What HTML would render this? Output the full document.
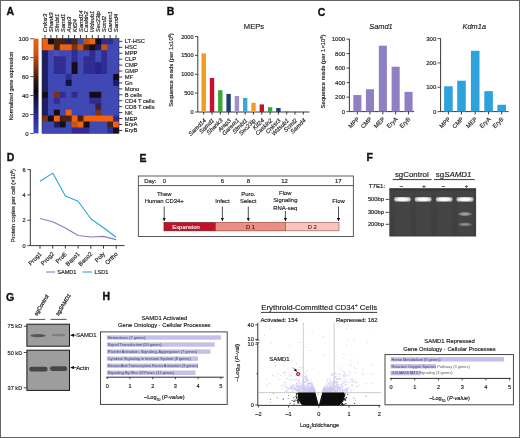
<!DOCTYPE html>
<html><head><meta charset="utf-8"><style>
html,body{margin:0;padding:0;background:#fff;}
#f{position:relative;width:520px;height:438px;overflow:hidden;background:#fff;}
svg{position:absolute;left:0;top:0;filter:blur(0.45px);}
svg text{font-family:"Liberation Sans", sans-serif;}
</style></head><body><div id="f">
<svg width="520" height="438" viewBox="0 0 520 438">
<rect x="0.5" y="0.5" width="519" height="437" fill="#fff" stroke="#636363" stroke-width="1"/>
<text x="6.60" y="15.20" font-size="10.5" text-anchor="start" font-weight="bold" font-style="normal" fill="#111" stroke="#111" stroke-width="0.35">A</text>
<defs>
<linearGradient id="cb" x1="0" y1="0" x2="0" y2="1">
<stop offset="0" stop-color="#f06010"/>
<stop offset="0.15" stop-color="#d45210"/>
<stop offset="0.32" stop-color="#7a3010"/>
<stop offset="0.46" stop-color="#2a1410"/>
<stop offset="0.56" stop-color="#0c0a12"/>
<stop offset="0.66" stop-color="#16164c"/>
<stop offset="0.82" stop-color="#2a2a98"/>
<stop offset="1" stop-color="#3c46c4"/>
</linearGradient>
<linearGradient id="gel" x1="0" y1="0" x2="0" y2="1">
<stop offset="0" stop-color="#303030"/>
<stop offset="0.07" stop-color="#424242"/>
<stop offset="1" stop-color="#3e3e3e"/>
</linearGradient>
<radialGradient id="band" cx="0.5" cy="0.5" r="0.5">
<stop offset="0" stop-color="#ffffff"/>
<stop offset="0.6" stop-color="#f4f4f4"/>
<stop offset="1" stop-color="#b0b0b0"/>
</radialGradient>
<radialGradient id="lb1" cx="0.5" cy="0.5" r="0.5"><stop offset="0" stop-color="#a8a8a8"/><stop offset="0.6" stop-color="#8c8c8c"/><stop offset="1" stop-color="#505050"/></radialGradient>
<radialGradient id="lb2" cx="0.5" cy="0.5" r="0.5"><stop offset="0" stop-color="#949494"/><stop offset="0.6" stop-color="#7c7c7c"/><stop offset="1" stop-color="#4c4c4c"/></radialGradient>
<marker id="ah" viewBox="0 0 10 10" refX="9" refY="5" markerWidth="4.5" markerHeight="4.5" orient="auto"><path d="M0,0 L10,5 L0,10 z" fill="#111"/></marker>
</defs>
<rect x="33.50" y="38.60" width="5.00" height="94.80" fill="url(#cb)"/>
<line x1="30.30" y1="38.70" x2="33.50" y2="38.70" stroke="#222" stroke-width="0.8"/>
<text x="28.60" y="40.80" font-size="6.0" text-anchor="end" font-weight="normal" font-style="normal" fill="#222" stroke="#222" stroke-width="0.16">100</text>
<line x1="30.30" y1="57.66" x2="33.50" y2="57.66" stroke="#222" stroke-width="0.8"/>
<text x="28.60" y="59.76" font-size="6.0" text-anchor="end" font-weight="normal" font-style="normal" fill="#222" stroke="#222" stroke-width="0.16">80</text>
<line x1="30.30" y1="76.62" x2="33.50" y2="76.62" stroke="#222" stroke-width="0.8"/>
<text x="28.60" y="78.72" font-size="6.0" text-anchor="end" font-weight="normal" font-style="normal" fill="#222" stroke="#222" stroke-width="0.16">60</text>
<line x1="30.30" y1="95.58" x2="33.50" y2="95.58" stroke="#222" stroke-width="0.8"/>
<text x="28.60" y="97.68" font-size="6.0" text-anchor="end" font-weight="normal" font-style="normal" fill="#222" stroke="#222" stroke-width="0.16">40</text>
<line x1="30.30" y1="114.54" x2="33.50" y2="114.54" stroke="#222" stroke-width="0.8"/>
<text x="28.60" y="116.64" font-size="6.0" text-anchor="end" font-weight="normal" font-style="normal" fill="#222" stroke="#222" stroke-width="0.16">20</text>
<line x1="30.30" y1="133.50" x2="33.50" y2="133.50" stroke="#222" stroke-width="0.8"/>
<text x="28.60" y="135.60" font-size="6.0" text-anchor="end" font-weight="normal" font-style="normal" fill="#222" stroke="#222" stroke-width="0.16">0</text>
<text x="12.90" y="86.00" font-size="5.4" text-anchor="middle" font-weight="normal" font-style="normal" fill="#222" transform="rotate(-90 12.9 86.0)" stroke="#222" stroke-width="0.16">Normalized gene expression</text>
<rect x="42.00" y="38.40" width="6.62" height="6.64" fill="#f0620f"/>
<rect x="47.92" y="38.40" width="6.62" height="6.64" fill="#140d16"/>
<rect x="53.85" y="38.40" width="6.62" height="6.64" fill="#4a2210"/>
<rect x="59.77" y="38.40" width="6.62" height="6.64" fill="#4a2210"/>
<rect x="65.69" y="38.40" width="6.62" height="6.64" fill="#1e1e68"/>
<rect x="71.62" y="38.40" width="6.62" height="6.64" fill="#4a2210"/>
<rect x="77.54" y="38.40" width="6.62" height="6.64" fill="#4048b4"/>
<rect x="83.46" y="38.40" width="6.62" height="6.64" fill="#c9530f"/>
<rect x="89.38" y="38.40" width="6.62" height="6.64" fill="#f0620f"/>
<rect x="95.31" y="38.40" width="6.62" height="6.64" fill="#140d16"/>
<rect x="101.23" y="38.40" width="6.62" height="6.64" fill="#2f2d94"/>
<rect x="107.15" y="38.40" width="6.62" height="6.64" fill="#2f2d94"/>
<rect x="113.08" y="38.40" width="5.92" height="6.64" fill="#4048b4"/>
<rect x="42.00" y="44.34" width="6.62" height="6.64" fill="#f0620f"/>
<rect x="47.92" y="44.34" width="6.62" height="6.64" fill="#f0620f"/>
<rect x="53.85" y="44.34" width="6.62" height="6.64" fill="#4a2210"/>
<rect x="59.77" y="44.34" width="6.62" height="6.64" fill="#f0620f"/>
<rect x="65.69" y="44.34" width="6.62" height="6.64" fill="#f0620f"/>
<rect x="71.62" y="44.34" width="6.62" height="6.64" fill="#7a3414"/>
<rect x="77.54" y="44.34" width="6.62" height="6.64" fill="#c9530f"/>
<rect x="83.46" y="44.34" width="6.62" height="6.64" fill="#4a2210"/>
<rect x="89.38" y="44.34" width="6.62" height="6.64" fill="#140d16"/>
<rect x="95.31" y="44.34" width="6.62" height="6.64" fill="#1e1e68"/>
<rect x="101.23" y="44.34" width="6.62" height="6.64" fill="#c9530f"/>
<rect x="107.15" y="44.34" width="6.62" height="6.64" fill="#4048b4"/>
<rect x="113.08" y="44.34" width="5.92" height="6.64" fill="#4048b4"/>
<rect x="42.00" y="50.27" width="6.62" height="6.64" fill="#1e1e68"/>
<rect x="47.92" y="50.27" width="6.62" height="6.64" fill="#4048b4"/>
<rect x="53.85" y="50.27" width="6.62" height="6.64" fill="#4750bc"/>
<rect x="59.77" y="50.27" width="6.62" height="6.64" fill="#4048b4"/>
<rect x="65.69" y="50.27" width="6.62" height="6.64" fill="#4048b4"/>
<rect x="71.62" y="50.27" width="6.62" height="6.64" fill="#2f2d94"/>
<rect x="77.54" y="50.27" width="6.62" height="6.64" fill="#4048b4"/>
<rect x="83.46" y="50.27" width="6.62" height="6.64" fill="#4048b4"/>
<rect x="89.38" y="50.27" width="6.62" height="6.64" fill="#2f2d94"/>
<rect x="95.31" y="50.27" width="6.62" height="6.64" fill="#4048b4"/>
<rect x="101.23" y="50.27" width="6.62" height="6.64" fill="#2f2d94"/>
<rect x="107.15" y="50.27" width="6.62" height="6.64" fill="#4048b4"/>
<rect x="113.08" y="50.27" width="5.92" height="6.64" fill="#4048b4"/>
<rect x="42.00" y="56.21" width="6.62" height="6.64" fill="#1e1e68"/>
<rect x="47.92" y="56.21" width="6.62" height="6.64" fill="#4048b4"/>
<rect x="53.85" y="56.21" width="6.62" height="6.64" fill="#2f2d94"/>
<rect x="59.77" y="56.21" width="6.62" height="6.64" fill="#2f2d94"/>
<rect x="65.69" y="56.21" width="6.62" height="6.64" fill="#4048b4"/>
<rect x="71.62" y="56.21" width="6.62" height="6.64" fill="#2f2d94"/>
<rect x="77.54" y="56.21" width="6.62" height="6.64" fill="#4048b4"/>
<rect x="83.46" y="56.21" width="6.62" height="6.64" fill="#2f2d94"/>
<rect x="89.38" y="56.21" width="6.62" height="6.64" fill="#2f2d94"/>
<rect x="95.31" y="56.21" width="6.62" height="6.64" fill="#4048b4"/>
<rect x="101.23" y="56.21" width="6.62" height="6.64" fill="#2f2d94"/>
<rect x="107.15" y="56.21" width="6.62" height="6.64" fill="#4048b4"/>
<rect x="113.08" y="56.21" width="5.92" height="6.64" fill="#4048b4"/>
<rect x="42.00" y="62.15" width="6.62" height="6.64" fill="#1e1e68"/>
<rect x="47.92" y="62.15" width="6.62" height="6.64" fill="#4048b4"/>
<rect x="53.85" y="62.15" width="6.62" height="6.64" fill="#2f2d94"/>
<rect x="59.77" y="62.15" width="6.62" height="6.64" fill="#2f2d94"/>
<rect x="65.69" y="62.15" width="6.62" height="6.64" fill="#4048b4"/>
<rect x="71.62" y="62.15" width="6.62" height="6.64" fill="#140d16"/>
<rect x="77.54" y="62.15" width="6.62" height="6.64" fill="#4048b4"/>
<rect x="83.46" y="62.15" width="6.62" height="6.64" fill="#2f2d94"/>
<rect x="89.38" y="62.15" width="6.62" height="6.64" fill="#2f2d94"/>
<rect x="95.31" y="62.15" width="6.62" height="6.64" fill="#24248a"/>
<rect x="101.23" y="62.15" width="6.62" height="6.64" fill="#2f2d94"/>
<rect x="107.15" y="62.15" width="6.62" height="6.64" fill="#4048b4"/>
<rect x="113.08" y="62.15" width="5.92" height="6.64" fill="#4048b4"/>
<rect x="42.00" y="68.09" width="6.62" height="6.64" fill="#1e1e68"/>
<rect x="47.92" y="68.09" width="6.62" height="6.64" fill="#4048b4"/>
<rect x="53.85" y="68.09" width="6.62" height="6.64" fill="#2f2d94"/>
<rect x="59.77" y="68.09" width="6.62" height="6.64" fill="#2f2d94"/>
<rect x="65.69" y="68.09" width="6.62" height="6.64" fill="#4048b4"/>
<rect x="71.62" y="68.09" width="6.62" height="6.64" fill="#140d16"/>
<rect x="77.54" y="68.09" width="6.62" height="6.64" fill="#4048b4"/>
<rect x="83.46" y="68.09" width="6.62" height="6.64" fill="#2f2d94"/>
<rect x="89.38" y="68.09" width="6.62" height="6.64" fill="#2f2d94"/>
<rect x="95.31" y="68.09" width="6.62" height="6.64" fill="#24248a"/>
<rect x="101.23" y="68.09" width="6.62" height="6.64" fill="#2f2d94"/>
<rect x="107.15" y="68.09" width="6.62" height="6.64" fill="#4048b4"/>
<rect x="113.08" y="68.09" width="5.92" height="6.64" fill="#4048b4"/>
<rect x="42.00" y="74.03" width="6.62" height="6.64" fill="#1e1e68"/>
<rect x="47.92" y="74.03" width="6.62" height="6.64" fill="#4048b4"/>
<rect x="53.85" y="74.03" width="6.62" height="6.64" fill="#4048b4"/>
<rect x="59.77" y="74.03" width="6.62" height="6.64" fill="#4048b4"/>
<rect x="65.69" y="74.03" width="6.62" height="6.64" fill="#2f2d94"/>
<rect x="71.62" y="74.03" width="6.62" height="6.64" fill="#4048b4"/>
<rect x="77.54" y="74.03" width="6.62" height="6.64" fill="#4048b4"/>
<rect x="83.46" y="74.03" width="6.62" height="6.64" fill="#4048b4"/>
<rect x="89.38" y="74.03" width="6.62" height="6.64" fill="#4048b4"/>
<rect x="95.31" y="74.03" width="6.62" height="6.64" fill="#4048b4"/>
<rect x="101.23" y="74.03" width="6.62" height="6.64" fill="#4048b4"/>
<rect x="107.15" y="74.03" width="6.62" height="6.64" fill="#4048b4"/>
<rect x="113.08" y="74.03" width="5.92" height="6.64" fill="#140d16"/>
<rect x="42.00" y="79.96" width="6.62" height="6.64" fill="#1e1e68"/>
<rect x="47.92" y="79.96" width="6.62" height="6.64" fill="#4048b4"/>
<rect x="53.85" y="79.96" width="6.62" height="6.64" fill="#4048b4"/>
<rect x="59.77" y="79.96" width="6.62" height="6.64" fill="#4048b4"/>
<rect x="65.69" y="79.96" width="6.62" height="6.64" fill="#12124a"/>
<rect x="71.62" y="79.96" width="6.62" height="6.64" fill="#4048b4"/>
<rect x="77.54" y="79.96" width="6.62" height="6.64" fill="#4048b4"/>
<rect x="83.46" y="79.96" width="6.62" height="6.64" fill="#4048b4"/>
<rect x="89.38" y="79.96" width="6.62" height="6.64" fill="#4048b4"/>
<rect x="95.31" y="79.96" width="6.62" height="6.64" fill="#4048b4"/>
<rect x="101.23" y="79.96" width="6.62" height="6.64" fill="#4048b4"/>
<rect x="107.15" y="79.96" width="6.62" height="6.64" fill="#4048b4"/>
<rect x="113.08" y="79.96" width="5.92" height="6.64" fill="#1e1e68"/>
<rect x="42.00" y="85.90" width="6.62" height="6.64" fill="#1e1e68"/>
<rect x="47.92" y="85.90" width="6.62" height="6.64" fill="#4048b4"/>
<rect x="53.85" y="85.90" width="6.62" height="6.64" fill="#4048b4"/>
<rect x="59.77" y="85.90" width="6.62" height="6.64" fill="#4048b4"/>
<rect x="65.69" y="85.90" width="6.62" height="6.64" fill="#4048b4"/>
<rect x="71.62" y="85.90" width="6.62" height="6.64" fill="#4048b4"/>
<rect x="77.54" y="85.90" width="6.62" height="6.64" fill="#4048b4"/>
<rect x="83.46" y="85.90" width="6.62" height="6.64" fill="#4048b4"/>
<rect x="89.38" y="85.90" width="6.62" height="6.64" fill="#4048b4"/>
<rect x="95.31" y="85.90" width="6.62" height="6.64" fill="#4048b4"/>
<rect x="101.23" y="85.90" width="6.62" height="6.64" fill="#4048b4"/>
<rect x="107.15" y="85.90" width="6.62" height="6.64" fill="#4048b4"/>
<rect x="113.08" y="85.90" width="5.92" height="6.64" fill="#4048b4"/>
<rect x="42.00" y="91.84" width="6.62" height="6.64" fill="#140d16"/>
<rect x="47.92" y="91.84" width="6.62" height="6.64" fill="#4048b4"/>
<rect x="53.85" y="91.84" width="6.62" height="6.64" fill="#7a3414"/>
<rect x="59.77" y="91.84" width="6.62" height="6.64" fill="#2f2d94"/>
<rect x="65.69" y="91.84" width="6.62" height="6.64" fill="#4048b4"/>
<rect x="71.62" y="91.84" width="6.62" height="6.64" fill="#2f2d94"/>
<rect x="77.54" y="91.84" width="6.62" height="6.64" fill="#4048b4"/>
<rect x="83.46" y="91.84" width="6.62" height="6.64" fill="#4048b4"/>
<rect x="89.38" y="91.84" width="6.62" height="6.64" fill="#140d16"/>
<rect x="95.31" y="91.84" width="6.62" height="6.64" fill="#140d16"/>
<rect x="101.23" y="91.84" width="6.62" height="6.64" fill="#4048b4"/>
<rect x="107.15" y="91.84" width="6.62" height="6.64" fill="#4048b4"/>
<rect x="113.08" y="91.84" width="5.92" height="6.64" fill="#4048b4"/>
<rect x="42.00" y="97.78" width="6.62" height="6.64" fill="#1e1e68"/>
<rect x="47.92" y="97.78" width="6.62" height="6.64" fill="#4048b4"/>
<rect x="53.85" y="97.78" width="6.62" height="6.64" fill="#2f2d94"/>
<rect x="59.77" y="97.78" width="6.62" height="6.64" fill="#4048b4"/>
<rect x="65.69" y="97.78" width="6.62" height="6.64" fill="#4048b4"/>
<rect x="71.62" y="97.78" width="6.62" height="6.64" fill="#4048b4"/>
<rect x="77.54" y="97.78" width="6.62" height="6.64" fill="#4048b4"/>
<rect x="83.46" y="97.78" width="6.62" height="6.64" fill="#4048b4"/>
<rect x="89.38" y="97.78" width="6.62" height="6.64" fill="#2f2d94"/>
<rect x="95.31" y="97.78" width="6.62" height="6.64" fill="#2f2d94"/>
<rect x="101.23" y="97.78" width="6.62" height="6.64" fill="#4048b4"/>
<rect x="107.15" y="97.78" width="6.62" height="6.64" fill="#4048b4"/>
<rect x="113.08" y="97.78" width="5.92" height="6.64" fill="#4048b4"/>
<rect x="42.00" y="103.71" width="6.62" height="6.64" fill="#1e1e68"/>
<rect x="47.92" y="103.71" width="6.62" height="6.64" fill="#4048b4"/>
<rect x="53.85" y="103.71" width="6.62" height="6.64" fill="#4048b4"/>
<rect x="59.77" y="103.71" width="6.62" height="6.64" fill="#4048b4"/>
<rect x="65.69" y="103.71" width="6.62" height="6.64" fill="#4048b4"/>
<rect x="71.62" y="103.71" width="6.62" height="6.64" fill="#4048b4"/>
<rect x="77.54" y="103.71" width="6.62" height="6.64" fill="#4048b4"/>
<rect x="83.46" y="103.71" width="6.62" height="6.64" fill="#4048b4"/>
<rect x="89.38" y="103.71" width="6.62" height="6.64" fill="#4048b4"/>
<rect x="95.31" y="103.71" width="6.62" height="6.64" fill="#3a2246"/>
<rect x="101.23" y="103.71" width="6.62" height="6.64" fill="#4048b4"/>
<rect x="107.15" y="103.71" width="6.62" height="6.64" fill="#4048b4"/>
<rect x="113.08" y="103.71" width="5.92" height="6.64" fill="#4048b4"/>
<rect x="42.00" y="109.65" width="6.62" height="6.64" fill="#1e1e68"/>
<rect x="47.92" y="109.65" width="6.62" height="6.64" fill="#4048b4"/>
<rect x="53.85" y="109.65" width="6.62" height="6.64" fill="#140d16"/>
<rect x="59.77" y="109.65" width="6.62" height="6.64" fill="#4048b4"/>
<rect x="65.69" y="109.65" width="6.62" height="6.64" fill="#f0620f"/>
<rect x="71.62" y="109.65" width="6.62" height="6.64" fill="#4048b4"/>
<rect x="77.54" y="109.65" width="6.62" height="6.64" fill="#4048b4"/>
<rect x="83.46" y="109.65" width="6.62" height="6.64" fill="#4048b4"/>
<rect x="89.38" y="109.65" width="6.62" height="6.64" fill="#4048b4"/>
<rect x="95.31" y="109.65" width="6.62" height="6.64" fill="#7a3414"/>
<rect x="101.23" y="109.65" width="6.62" height="6.64" fill="#4048b4"/>
<rect x="107.15" y="109.65" width="6.62" height="6.64" fill="#4048b4"/>
<rect x="113.08" y="109.65" width="5.92" height="6.64" fill="#4048b4"/>
<rect x="42.00" y="115.59" width="6.62" height="6.64" fill="#7a3414"/>
<rect x="47.92" y="115.59" width="6.62" height="6.64" fill="#140d16"/>
<rect x="53.85" y="115.59" width="6.62" height="6.64" fill="#f0620f"/>
<rect x="59.77" y="115.59" width="6.62" height="6.64" fill="#4a2210"/>
<rect x="65.69" y="115.59" width="6.62" height="6.64" fill="#4a2210"/>
<rect x="71.62" y="115.59" width="6.62" height="6.64" fill="#f0620f"/>
<rect x="77.54" y="115.59" width="6.62" height="6.64" fill="#4a2210"/>
<rect x="83.46" y="115.59" width="6.62" height="6.64" fill="#f0620f"/>
<rect x="89.38" y="115.59" width="6.62" height="6.64" fill="#f0620f"/>
<rect x="95.31" y="115.59" width="6.62" height="6.64" fill="#f0620f"/>
<rect x="101.23" y="115.59" width="6.62" height="6.64" fill="#f0620f"/>
<rect x="107.15" y="115.59" width="6.62" height="6.64" fill="#f0620f"/>
<rect x="113.08" y="115.59" width="5.92" height="6.64" fill="#2f2d94"/>
<rect x="42.00" y="121.53" width="6.62" height="6.64" fill="#4048b4"/>
<rect x="47.92" y="121.53" width="6.62" height="6.64" fill="#4048b4"/>
<rect x="53.85" y="121.53" width="6.62" height="6.64" fill="#1e1e68"/>
<rect x="59.77" y="121.53" width="6.62" height="6.64" fill="#140d16"/>
<rect x="65.69" y="121.53" width="6.62" height="6.64" fill="#4048b4"/>
<rect x="71.62" y="121.53" width="6.62" height="6.64" fill="#c9530f"/>
<rect x="77.54" y="121.53" width="6.62" height="6.64" fill="#f0620f"/>
<rect x="83.46" y="121.53" width="6.62" height="6.64" fill="#140d16"/>
<rect x="89.38" y="121.53" width="6.62" height="6.64" fill="#4048b4"/>
<rect x="95.31" y="121.53" width="6.62" height="6.64" fill="#4048b4"/>
<rect x="101.23" y="121.53" width="6.62" height="6.64" fill="#4048b4"/>
<rect x="107.15" y="121.53" width="6.62" height="6.64" fill="#4a2210"/>
<rect x="113.08" y="121.53" width="5.92" height="6.64" fill="#f0620f"/>
<rect x="42.00" y="127.46" width="6.62" height="5.94" fill="#4048b4"/>
<rect x="47.92" y="127.46" width="6.62" height="5.94" fill="#4048b4"/>
<rect x="53.85" y="127.46" width="6.62" height="5.94" fill="#4048b4"/>
<rect x="59.77" y="127.46" width="6.62" height="5.94" fill="#4048b4"/>
<rect x="65.69" y="127.46" width="6.62" height="5.94" fill="#4048b4"/>
<rect x="71.62" y="127.46" width="6.62" height="5.94" fill="#2f2d94"/>
<rect x="77.54" y="127.46" width="6.62" height="5.94" fill="#2f2d94"/>
<rect x="83.46" y="127.46" width="6.62" height="5.94" fill="#2f2d94"/>
<rect x="89.38" y="127.46" width="6.62" height="5.94" fill="#4048b4"/>
<rect x="95.31" y="127.46" width="6.62" height="5.94" fill="#4048b4"/>
<rect x="101.23" y="127.46" width="6.62" height="5.94" fill="#4048b4"/>
<rect x="107.15" y="127.46" width="6.62" height="5.94" fill="#2f2d94"/>
<rect x="113.08" y="127.46" width="5.92" height="5.94" fill="#140d16"/>
<rect x="42.00" y="38.40" width="77.00" height="95.00" fill="none" stroke="#222" stroke-width="0.5"/>
<line x1="44.96" y1="35.00" x2="44.96" y2="38.40" stroke="#222" stroke-width="0.9"/>
<text x="0" y="0" font-size="5.6" text-anchor="start" font-weight="normal" font-style="italic" fill="#222" transform="translate(46.96 32.20) rotate(-90) scale(1.04 1)" stroke="#222" stroke-width="0.16">Cnksr3</text>
<line x1="50.88" y1="35.00" x2="50.88" y2="38.40" stroke="#222" stroke-width="0.9"/>
<text x="0" y="0" font-size="5.6" text-anchor="start" font-weight="normal" font-style="italic" fill="#222" transform="translate(52.88 32.20) rotate(-90) scale(1.04 1)" stroke="#222" stroke-width="0.16">Shank3</text>
<line x1="56.81" y1="35.00" x2="56.81" y2="38.40" stroke="#222" stroke-width="0.9"/>
<text x="0" y="0" font-size="5.6" text-anchor="start" font-weight="normal" font-style="italic" fill="#222" transform="translate(58.81 32.20) rotate(-90) scale(1.04 1)" stroke="#222" stroke-width="0.16">Sfmbt1</text>
<line x1="62.73" y1="35.00" x2="62.73" y2="38.40" stroke="#222" stroke-width="0.9"/>
<text x="0" y="0" font-size="5.6" text-anchor="start" font-weight="normal" font-style="italic" fill="#222" transform="translate(64.73 32.20) rotate(-90) scale(1.04 1)" stroke="#222" stroke-width="0.16">Samd1</text>
<line x1="68.65" y1="35.00" x2="68.65" y2="38.40" stroke="#222" stroke-width="0.9"/>
<text x="0" y="0" font-size="5.6" text-anchor="start" font-weight="normal" font-style="italic" fill="#222" transform="translate(70.65 32.20) rotate(-90) scale(1.04 1)" stroke="#222" stroke-width="0.16">Arap3</text>
<line x1="74.58" y1="35.00" x2="74.58" y2="38.40" stroke="#222" stroke-width="0.9"/>
<text x="0" y="0" font-size="5.6" text-anchor="start" font-weight="normal" font-style="italic" fill="#222" transform="translate(76.58 32.20) rotate(-90) scale(1.04 1)" stroke="#222" stroke-width="0.16">Kif24</text>
<line x1="80.50" y1="35.00" x2="80.50" y2="38.40" stroke="#222" stroke-width="0.9"/>
<text x="0" y="0" font-size="5.6" text-anchor="start" font-weight="normal" font-style="italic" fill="#222" transform="translate(82.50 32.20) rotate(-90) scale(1.04 1)" stroke="#222" stroke-width="0.16">Samd14</text>
<line x1="86.42" y1="35.00" x2="86.42" y2="38.40" stroke="#222" stroke-width="0.9"/>
<text x="0" y="0" font-size="5.6" text-anchor="start" font-weight="normal" font-style="italic" fill="#222" transform="translate(88.42 32.20) rotate(-90) scale(1.04 1)" stroke="#222" stroke-width="0.16">Caskin2</text>
<line x1="92.35" y1="35.00" x2="92.35" y2="38.40" stroke="#222" stroke-width="0.9"/>
<text x="0" y="0" font-size="5.6" text-anchor="start" font-weight="normal" font-style="italic" fill="#222" transform="translate(94.35 32.20) rotate(-90) scale(1.04 1)" stroke="#222" stroke-width="0.16">Wdsub1</text>
<line x1="98.27" y1="35.00" x2="98.27" y2="38.40" stroke="#222" stroke-width="0.9"/>
<text x="0" y="0" font-size="5.6" text-anchor="start" font-weight="normal" font-style="italic" fill="#222" transform="translate(100.27 32.20) rotate(-90) scale(1.04 1)" stroke="#222" stroke-width="0.16">Sec23ip</text>
<line x1="104.19" y1="35.00" x2="104.19" y2="38.40" stroke="#222" stroke-width="0.9"/>
<text x="0" y="0" font-size="5.6" text-anchor="start" font-weight="normal" font-style="italic" fill="#222" transform="translate(106.19 32.20) rotate(-90) scale(1.04 1)" stroke="#222" stroke-width="0.16">Scml2</text>
<line x1="110.12" y1="35.00" x2="110.12" y2="38.40" stroke="#222" stroke-width="0.9"/>
<text x="0" y="0" font-size="5.6" text-anchor="start" font-weight="normal" font-style="italic" fill="#222" transform="translate(112.12 32.20) rotate(-90) scale(1.04 1)" stroke="#222" stroke-width="0.16">Garem1</text>
<line x1="116.04" y1="35.00" x2="116.04" y2="38.40" stroke="#222" stroke-width="0.9"/>
<text x="0" y="0" font-size="5.6" text-anchor="start" font-weight="normal" font-style="italic" fill="#222" transform="translate(118.04 32.20) rotate(-90) scale(1.04 1)" stroke="#222" stroke-width="0.16">Samd4</text>
<line x1="119.00" y1="41.37" x2="122.30" y2="41.37" stroke="#222" stroke-width="0.9"/>
<text x="124.80" y="43.37" font-size="5.8" text-anchor="start" font-weight="normal" font-style="normal" fill="#222" stroke="#222" stroke-width="0.16">LT-HSC</text>
<line x1="119.00" y1="47.31" x2="122.30" y2="47.31" stroke="#222" stroke-width="0.9"/>
<text x="124.80" y="49.31" font-size="5.8" text-anchor="start" font-weight="normal" font-style="normal" fill="#222" stroke="#222" stroke-width="0.16">HSC</text>
<line x1="119.00" y1="53.24" x2="122.30" y2="53.24" stroke="#222" stroke-width="0.9"/>
<text x="124.80" y="55.24" font-size="5.8" text-anchor="start" font-weight="normal" font-style="normal" fill="#222" stroke="#222" stroke-width="0.16">MPP</text>
<line x1="119.00" y1="59.18" x2="122.30" y2="59.18" stroke="#222" stroke-width="0.9"/>
<text x="124.80" y="61.18" font-size="5.8" text-anchor="start" font-weight="normal" font-style="normal" fill="#222" stroke="#222" stroke-width="0.16">CLP</text>
<line x1="119.00" y1="65.12" x2="122.30" y2="65.12" stroke="#222" stroke-width="0.9"/>
<text x="124.80" y="67.12" font-size="5.8" text-anchor="start" font-weight="normal" font-style="normal" fill="#222" stroke="#222" stroke-width="0.16">CMP</text>
<line x1="119.00" y1="71.06" x2="122.30" y2="71.06" stroke="#222" stroke-width="0.9"/>
<text x="124.80" y="73.06" font-size="5.8" text-anchor="start" font-weight="normal" font-style="normal" fill="#222" stroke="#222" stroke-width="0.16">GMP</text>
<line x1="119.00" y1="76.99" x2="122.30" y2="76.99" stroke="#222" stroke-width="0.9"/>
<text x="124.80" y="78.99" font-size="5.8" text-anchor="start" font-weight="normal" font-style="normal" fill="#222" stroke="#222" stroke-width="0.16">MF</text>
<line x1="119.00" y1="82.93" x2="122.30" y2="82.93" stroke="#222" stroke-width="0.9"/>
<text x="124.80" y="84.93" font-size="5.8" text-anchor="start" font-weight="normal" font-style="normal" fill="#222" stroke="#222" stroke-width="0.16">Gn</text>
<line x1="119.00" y1="88.87" x2="122.30" y2="88.87" stroke="#222" stroke-width="0.9"/>
<text x="124.80" y="90.87" font-size="5.8" text-anchor="start" font-weight="normal" font-style="normal" fill="#222" stroke="#222" stroke-width="0.16">Mono</text>
<line x1="119.00" y1="94.81" x2="122.30" y2="94.81" stroke="#222" stroke-width="0.9"/>
<text x="124.80" y="96.81" font-size="5.8" text-anchor="start" font-weight="normal" font-style="normal" fill="#222" stroke="#222" stroke-width="0.16">B cells</text>
<line x1="119.00" y1="100.74" x2="122.30" y2="100.74" stroke="#222" stroke-width="0.9"/>
<text x="124.80" y="102.74" font-size="5.8" text-anchor="start" font-weight="normal" font-style="normal" fill="#222" stroke="#222" stroke-width="0.16">CD4 T cells</text>
<line x1="119.00" y1="106.68" x2="122.30" y2="106.68" stroke="#222" stroke-width="0.9"/>
<text x="124.80" y="108.68" font-size="5.8" text-anchor="start" font-weight="normal" font-style="normal" fill="#222" stroke="#222" stroke-width="0.16">CD8 T cells</text>
<line x1="119.00" y1="112.62" x2="122.30" y2="112.62" stroke="#222" stroke-width="0.9"/>
<text x="124.80" y="114.62" font-size="5.8" text-anchor="start" font-weight="normal" font-style="normal" fill="#222" stroke="#222" stroke-width="0.16">NK</text>
<line x1="119.00" y1="118.56" x2="122.30" y2="118.56" stroke="#222" stroke-width="0.9"/>
<text x="124.80" y="120.56" font-size="5.8" text-anchor="start" font-weight="normal" font-style="normal" fill="#222" stroke="#222" stroke-width="0.16">MEP</text>
<line x1="119.00" y1="124.49" x2="122.30" y2="124.49" stroke="#222" stroke-width="0.9"/>
<text x="124.80" y="126.49" font-size="5.8" text-anchor="start" font-weight="normal" font-style="normal" fill="#222" stroke="#222" stroke-width="0.16">EryA</text>
<line x1="119.00" y1="130.43" x2="122.30" y2="130.43" stroke="#222" stroke-width="0.9"/>
<text x="124.80" y="132.43" font-size="5.8" text-anchor="start" font-weight="normal" font-style="normal" fill="#222" stroke="#222" stroke-width="0.16">EryB</text>
<text x="166.70" y="15.40" font-size="10.5" text-anchor="start" font-weight="bold" font-style="normal" fill="#111" stroke="#111" stroke-width="0.35">B</text>
<text x="254.00" y="29.00" font-size="7.6" text-anchor="middle" font-weight="normal" font-style="normal" fill="#222" stroke="#222" stroke-width="0.16">MEPs</text>
<line x1="197.80" y1="36.20" x2="197.80" y2="112.00" stroke="#222" stroke-width="0.9"/>
<line x1="197.80" y1="112.00" x2="309.50" y2="112.00" stroke="#222" stroke-width="0.9"/>
<line x1="195.00" y1="112.00" x2="197.80" y2="112.00" stroke="#222" stroke-width="0.8"/>
<text x="193.60" y="114.00" font-size="5.6" text-anchor="end" font-weight="normal" font-style="normal" fill="#222" stroke="#222" stroke-width="0.16">0</text>
<line x1="195.00" y1="93.12" x2="197.80" y2="93.12" stroke="#222" stroke-width="0.8"/>
<text x="193.60" y="95.12" font-size="5.6" text-anchor="end" font-weight="normal" font-style="normal" fill="#222" stroke="#222" stroke-width="0.16">500</text>
<line x1="195.00" y1="74.25" x2="197.80" y2="74.25" stroke="#222" stroke-width="0.8"/>
<text x="193.60" y="76.25" font-size="5.6" text-anchor="end" font-weight="normal" font-style="normal" fill="#222" stroke="#222" stroke-width="0.16">1000</text>
<line x1="195.00" y1="55.38" x2="197.80" y2="55.38" stroke="#222" stroke-width="0.8"/>
<text x="193.60" y="57.38" font-size="5.6" text-anchor="end" font-weight="normal" font-style="normal" fill="#222" stroke="#222" stroke-width="0.16">1500</text>
<line x1="195.00" y1="36.50" x2="197.80" y2="36.50" stroke="#222" stroke-width="0.8"/>
<text x="193.60" y="38.50" font-size="5.6" text-anchor="end" font-weight="normal" font-style="normal" fill="#222" stroke="#222" stroke-width="0.16">2000</text>
<text x="172.60" y="70.00" font-size="5.9" text-anchor="middle" font-weight="normal" font-style="normal" fill="#222" transform="rotate(-90 172.6 70.0)" stroke="#222" stroke-width="0.16">Sequence reads (per 1x10<tspan font-size="3.8" dy="-2">6</tspan><tspan dy="2">)</tspan></text>
<rect x="201.50" y="53.37" width="4.40" height="58.63" fill="#f39a20"/>
<line x1="203.70" y1="112.00" x2="203.70" y2="114.60" stroke="#222" stroke-width="0.9"/>
<text x="206.40" y="120.80" font-size="5.9" text-anchor="end" font-weight="normal" font-style="italic" fill="#222" transform="rotate(-45 206.39999999999998 120.8)" stroke="#222" stroke-width="0.16">Samd14</text>
<rect x="209.80" y="77.95" width="4.40" height="34.05" fill="#c8102e"/>
<line x1="212.00" y1="112.00" x2="212.00" y2="114.60" stroke="#222" stroke-width="0.9"/>
<text x="214.70" y="120.80" font-size="5.9" text-anchor="end" font-weight="normal" font-style="italic" fill="#222" transform="rotate(-45 214.7 120.8)" stroke="#222" stroke-width="0.16">Samd1</text>
<rect x="218.10" y="90.22" width="4.40" height="21.78" fill="#3aa838"/>
<line x1="220.30" y1="112.00" x2="220.30" y2="114.60" stroke="#222" stroke-width="0.9"/>
<text x="223.00" y="120.80" font-size="5.9" text-anchor="end" font-weight="normal" font-style="italic" fill="#222" transform="rotate(-45 222.99999999999997 120.8)" stroke="#222" stroke-width="0.16">Shank3</text>
<rect x="226.40" y="93.92" width="4.40" height="18.08" fill="#1d3f7a"/>
<line x1="228.60" y1="112.00" x2="228.60" y2="114.60" stroke="#222" stroke-width="0.9"/>
<text x="231.30" y="120.80" font-size="5.9" text-anchor="end" font-weight="normal" font-style="italic" fill="#222" transform="rotate(-45 231.29999999999998 120.8)" stroke="#222" stroke-width="0.16">Arap3</text>
<rect x="234.70" y="96.03" width="4.40" height="15.97" fill="#9b8fd0"/>
<line x1="236.90" y1="112.00" x2="236.90" y2="114.60" stroke="#222" stroke-width="0.9"/>
<text x="239.60" y="120.80" font-size="5.9" text-anchor="end" font-weight="normal" font-style="italic" fill="#222" transform="rotate(-45 239.59999999999997 120.8)" stroke="#222" stroke-width="0.16">Garem1</text>
<rect x="243.00" y="97.92" width="4.40" height="14.08" fill="#3aa6e0"/>
<line x1="245.20" y1="112.00" x2="245.20" y2="114.60" stroke="#222" stroke-width="0.9"/>
<text x="247.90" y="120.80" font-size="5.9" text-anchor="end" font-weight="normal" font-style="italic" fill="#222" transform="rotate(-45 247.89999999999998 120.8)" stroke="#222" stroke-width="0.16">Sfmbt1</text>
<rect x="251.30" y="102.83" width="4.40" height="9.17" fill="#f39a20"/>
<line x1="253.50" y1="112.00" x2="253.50" y2="114.60" stroke="#222" stroke-width="0.9"/>
<text x="256.20" y="120.80" font-size="5.9" text-anchor="end" font-weight="normal" font-style="italic" fill="#222" transform="rotate(-45 256.2 120.8)" stroke="#222" stroke-width="0.16">Sec23ip</text>
<rect x="259.60" y="104.41" width="4.40" height="7.59" fill="#c8102e"/>
<line x1="261.80" y1="112.00" x2="261.80" y2="114.60" stroke="#222" stroke-width="0.9"/>
<text x="264.50" y="120.80" font-size="5.9" text-anchor="end" font-weight="normal" font-style="italic" fill="#222" transform="rotate(-45 264.5 120.8)" stroke="#222" stroke-width="0.16">Kif24</text>
<rect x="267.90" y="107.21" width="4.40" height="4.79" fill="#3aa838"/>
<line x1="270.10" y1="112.00" x2="270.10" y2="114.60" stroke="#222" stroke-width="0.9"/>
<text x="272.80" y="120.80" font-size="5.9" text-anchor="end" font-weight="normal" font-style="italic" fill="#222" transform="rotate(-45 272.8 120.8)" stroke="#222" stroke-width="0.16">Caskin2</text>
<rect x="276.20" y="108.00" width="4.40" height="4.00" fill="#1d3f7a"/>
<line x1="278.40" y1="112.00" x2="278.40" y2="114.60" stroke="#222" stroke-width="0.9"/>
<text x="281.10" y="120.80" font-size="5.9" text-anchor="end" font-weight="normal" font-style="italic" fill="#222" transform="rotate(-45 281.09999999999997 120.8)" stroke="#222" stroke-width="0.16">Cnksr3</text>
<rect x="284.50" y="111.70" width="4.40" height="0.30" fill="#555"/>
<line x1="286.70" y1="112.00" x2="286.70" y2="114.60" stroke="#222" stroke-width="0.9"/>
<text x="289.40" y="120.80" font-size="5.9" text-anchor="end" font-weight="normal" font-style="italic" fill="#222" transform="rotate(-45 289.4 120.8)" stroke="#222" stroke-width="0.16">Wdsub1</text>
<rect x="292.80" y="111.85" width="4.40" height="0.15" fill="#555"/>
<line x1="295.00" y1="112.00" x2="295.00" y2="114.60" stroke="#222" stroke-width="0.9"/>
<text x="297.70" y="120.80" font-size="5.9" text-anchor="end" font-weight="normal" font-style="italic" fill="#222" transform="rotate(-45 297.7 120.8)" stroke="#222" stroke-width="0.16">Scml2</text>
<rect x="301.10" y="111.89" width="4.40" height="0.11" fill="#555"/>
<line x1="303.30" y1="112.00" x2="303.30" y2="114.60" stroke="#222" stroke-width="0.9"/>
<text x="306.00" y="120.80" font-size="5.9" text-anchor="end" font-weight="normal" font-style="italic" fill="#222" transform="rotate(-45 306.0 120.8)" stroke="#222" stroke-width="0.16">Samd4</text>
<text x="317.80" y="15.60" font-size="10.5" text-anchor="start" font-weight="bold" font-style="normal" fill="#111" stroke="#111" stroke-width="0.35">C</text>
<line x1="349.40" y1="38.80" x2="349.40" y2="111.60" stroke="#222" stroke-width="0.9"/>
<line x1="349.40" y1="111.60" x2="414.00" y2="111.60" stroke="#222" stroke-width="0.9"/>
<line x1="346.40" y1="111.60" x2="349.40" y2="111.60" stroke="#222" stroke-width="0.8"/>
<text x="345.10" y="113.70" font-size="6.0" text-anchor="end" font-weight="normal" font-style="normal" fill="#222" stroke="#222" stroke-width="0.16">0</text>
<line x1="346.40" y1="97.10" x2="349.40" y2="97.10" stroke="#222" stroke-width="0.8"/>
<text x="345.10" y="99.20" font-size="6.0" text-anchor="end" font-weight="normal" font-style="normal" fill="#222" stroke="#222" stroke-width="0.16">200</text>
<line x1="346.40" y1="82.60" x2="349.40" y2="82.60" stroke="#222" stroke-width="0.8"/>
<text x="345.10" y="84.70" font-size="6.0" text-anchor="end" font-weight="normal" font-style="normal" fill="#222" stroke="#222" stroke-width="0.16">400</text>
<line x1="346.40" y1="68.10" x2="349.40" y2="68.10" stroke="#222" stroke-width="0.8"/>
<text x="345.10" y="70.20" font-size="6.0" text-anchor="end" font-weight="normal" font-style="normal" fill="#222" stroke="#222" stroke-width="0.16">600</text>
<line x1="346.40" y1="53.60" x2="349.40" y2="53.60" stroke="#222" stroke-width="0.8"/>
<text x="345.10" y="55.70" font-size="6.0" text-anchor="end" font-weight="normal" font-style="normal" fill="#222" stroke="#222" stroke-width="0.16">800</text>
<line x1="346.40" y1="39.10" x2="349.40" y2="39.10" stroke="#222" stroke-width="0.8"/>
<text x="345.10" y="41.20" font-size="6.0" text-anchor="end" font-weight="normal" font-style="normal" fill="#222" stroke="#222" stroke-width="0.16">1000</text>
<rect x="353.30" y="95.00" width="8.10" height="16.60" fill="#8f80c4"/>
<line x1="357.35" y1="111.60" x2="357.35" y2="114.40" stroke="#222" stroke-width="0.9"/>
<text x="359.65" y="119.60" font-size="5.8" text-anchor="end" font-weight="normal" font-style="normal" fill="#222" transform="rotate(-45 359.65000000000003 119.6)" stroke="#222" stroke-width="0.16">MPP</text>
<rect x="365.90" y="89.27" width="8.10" height="22.33" fill="#8f80c4"/>
<line x1="369.95" y1="111.60" x2="369.95" y2="114.40" stroke="#222" stroke-width="0.9"/>
<text x="372.25" y="119.60" font-size="5.8" text-anchor="end" font-weight="normal" font-style="normal" fill="#222" transform="rotate(-45 372.25 119.6)" stroke="#222" stroke-width="0.16">CMP</text>
<rect x="378.80" y="45.70" width="8.10" height="65.90" fill="#8f80c4"/>
<line x1="382.85" y1="111.60" x2="382.85" y2="114.40" stroke="#222" stroke-width="0.9"/>
<text x="385.15" y="119.60" font-size="5.8" text-anchor="end" font-weight="normal" font-style="normal" fill="#222" transform="rotate(-45 385.15000000000003 119.6)" stroke="#222" stroke-width="0.16">MEP</text>
<rect x="391.60" y="66.72" width="8.10" height="44.88" fill="#8f80c4"/>
<line x1="395.65" y1="111.60" x2="395.65" y2="114.40" stroke="#222" stroke-width="0.9"/>
<text x="397.95" y="119.60" font-size="5.8" text-anchor="end" font-weight="normal" font-style="normal" fill="#222" transform="rotate(-45 397.95000000000005 119.6)" stroke="#222" stroke-width="0.16">EryA</text>
<rect x="404.50" y="91.88" width="8.10" height="19.72" fill="#8f80c4"/>
<line x1="408.55" y1="111.60" x2="408.55" y2="114.40" stroke="#222" stroke-width="0.9"/>
<text x="410.85" y="119.60" font-size="5.8" text-anchor="end" font-weight="normal" font-style="normal" fill="#222" transform="rotate(-45 410.85 119.6)" stroke="#222" stroke-width="0.16">EryB</text>
<text x="381.00" y="29.20" font-size="7.4" text-anchor="middle" font-weight="normal" font-style="italic" fill="#222" stroke="#222" stroke-width="0.16">Samd1</text>
<text x="325.00" y="71.50" font-size="5.9" text-anchor="middle" font-weight="normal" font-style="normal" fill="#222" transform="rotate(-90 325.0 71.5)" stroke="#222" stroke-width="0.16">Sequence reads (per 1×10<tspan font-size="3.9" dy="-2.2">6</tspan><tspan dy="2.2">)</tspan></text>
<line x1="440.60" y1="38.30" x2="440.60" y2="111.60" stroke="#222" stroke-width="0.9"/>
<line x1="440.60" y1="111.60" x2="508.50" y2="111.60" stroke="#222" stroke-width="0.9"/>
<line x1="437.60" y1="111.60" x2="440.60" y2="111.60" stroke="#222" stroke-width="0.8"/>
<text x="436.30" y="113.70" font-size="6.0" text-anchor="end" font-weight="normal" font-style="normal" fill="#222" stroke="#222" stroke-width="0.16">0</text>
<line x1="437.60" y1="87.27" x2="440.60" y2="87.27" stroke="#222" stroke-width="0.8"/>
<text x="436.30" y="89.37" font-size="6.0" text-anchor="end" font-weight="normal" font-style="normal" fill="#222" stroke="#222" stroke-width="0.16">100</text>
<line x1="437.60" y1="62.93" x2="440.60" y2="62.93" stroke="#222" stroke-width="0.8"/>
<text x="436.30" y="65.03" font-size="6.0" text-anchor="end" font-weight="normal" font-style="normal" fill="#222" stroke="#222" stroke-width="0.16">200</text>
<line x1="437.60" y1="38.60" x2="440.60" y2="38.60" stroke="#222" stroke-width="0.8"/>
<text x="436.30" y="40.70" font-size="6.0" text-anchor="end" font-weight="normal" font-style="normal" fill="#222" stroke="#222" stroke-width="0.16">300</text>
<rect x="444.10" y="86.29" width="8.60" height="25.31" fill="#2ea2dc"/>
<line x1="448.40" y1="111.60" x2="448.40" y2="114.40" stroke="#222" stroke-width="0.9"/>
<text x="450.70" y="119.60" font-size="5.8" text-anchor="end" font-weight="normal" font-style="normal" fill="#222" transform="rotate(-45 450.70000000000005 119.6)" stroke="#222" stroke-width="0.16">MPP</text>
<rect x="457.20" y="80.70" width="8.60" height="30.90" fill="#2ea2dc"/>
<line x1="461.50" y1="111.60" x2="461.50" y2="114.40" stroke="#222" stroke-width="0.9"/>
<text x="463.80" y="119.60" font-size="5.8" text-anchor="end" font-weight="normal" font-style="normal" fill="#222" transform="rotate(-45 463.8 119.6)" stroke="#222" stroke-width="0.16">CMP</text>
<rect x="470.90" y="50.77" width="8.60" height="60.83" fill="#2ea2dc"/>
<line x1="475.20" y1="111.60" x2="475.20" y2="114.40" stroke="#222" stroke-width="0.9"/>
<text x="477.50" y="119.60" font-size="5.8" text-anchor="end" font-weight="normal" font-style="normal" fill="#222" transform="rotate(-45 477.5 119.6)" stroke="#222" stroke-width="0.16">MEP</text>
<rect x="484.30" y="91.16" width="8.60" height="20.44" fill="#2ea2dc"/>
<line x1="488.60" y1="111.60" x2="488.60" y2="114.40" stroke="#222" stroke-width="0.9"/>
<text x="490.90" y="119.60" font-size="5.8" text-anchor="end" font-weight="normal" font-style="normal" fill="#222" transform="rotate(-45 490.90000000000003 119.6)" stroke="#222" stroke-width="0.16">EryA</text>
<rect x="497.40" y="104.79" width="8.60" height="6.81" fill="#2ea2dc"/>
<line x1="501.70" y1="111.60" x2="501.70" y2="114.40" stroke="#222" stroke-width="0.9"/>
<text x="504.00" y="119.60" font-size="5.8" text-anchor="end" font-weight="normal" font-style="normal" fill="#222" transform="rotate(-45 504.0 119.6)" stroke="#222" stroke-width="0.16">EryB</text>
<text x="474.30" y="29.20" font-size="7.4" text-anchor="middle" font-weight="normal" font-style="italic" fill="#222" stroke="#222" stroke-width="0.16">Kdm1a</text>
<text x="6.70" y="161.00" font-size="10.5" text-anchor="start" font-weight="bold" font-style="normal" fill="#111" stroke="#111" stroke-width="0.35">D</text>
<line x1="30.30" y1="169.30" x2="30.30" y2="245.60" stroke="#222" stroke-width="0.9"/>
<line x1="30.30" y1="245.60" x2="124.50" y2="245.60" stroke="#222" stroke-width="0.9"/>
<line x1="27.30" y1="245.60" x2="30.30" y2="245.60" stroke="#222" stroke-width="0.8"/>
<text x="25.50" y="247.60" font-size="5.6" text-anchor="end" font-weight="normal" font-style="normal" fill="#222" stroke="#222" stroke-width="0.16">0</text>
<line x1="27.30" y1="220.27" x2="30.30" y2="220.27" stroke="#222" stroke-width="0.8"/>
<text x="25.50" y="222.27" font-size="5.6" text-anchor="end" font-weight="normal" font-style="normal" fill="#222" stroke="#222" stroke-width="0.16">2</text>
<line x1="27.30" y1="194.93" x2="30.30" y2="194.93" stroke="#222" stroke-width="0.8"/>
<text x="25.50" y="196.93" font-size="5.6" text-anchor="end" font-weight="normal" font-style="normal" fill="#222" stroke="#222" stroke-width="0.16">4</text>
<line x1="27.30" y1="169.60" x2="30.30" y2="169.60" stroke="#222" stroke-width="0.8"/>
<text x="25.50" y="171.60" font-size="5.6" text-anchor="end" font-weight="normal" font-style="normal" fill="#222" stroke="#222" stroke-width="0.16">6</text>
<text x="15.50" y="205.70" font-size="5.7" text-anchor="middle" font-weight="normal" font-style="normal" fill="#222" transform="rotate(-90 15.5 205.7)" stroke="#222" stroke-width="0.16">Protein copies per cell (×10<tspan font-size="3.6" dy="-2">6</tspan><tspan dy="2">)</tspan></text>
<polyline points="40.0,181.2 52.7,173.1 65.4,196.0 78.1,201.3 90.8,218.8 103.5,227.7 116.2,237.2" fill="none" stroke="#2aa6d8" stroke-width="1.1" stroke-linejoin="round"/>
<polyline points="40.0,218.5 52.7,221.8 65.4,228.0 78.1,235.5 90.8,237.0 103.5,236.4 116.2,239.6" fill="none" stroke="#8a7cc0" stroke-width="1.1" stroke-linejoin="round"/>
<line x1="40.00" y1="245.60" x2="40.00" y2="248.60" stroke="#222" stroke-width="0.9"/>
<text x="42.00" y="254.40" font-size="6.0" text-anchor="end" font-weight="normal" font-style="normal" fill="#222" transform="rotate(-45 42.0 254.4)" stroke="#222" stroke-width="0.16">Prog1</text>
<line x1="52.70" y1="245.60" x2="52.70" y2="248.60" stroke="#222" stroke-width="0.9"/>
<text x="54.70" y="254.40" font-size="6.0" text-anchor="end" font-weight="normal" font-style="normal" fill="#222" transform="rotate(-45 54.7 254.4)" stroke="#222" stroke-width="0.16">Prog2</text>
<line x1="65.40" y1="245.60" x2="65.40" y2="248.60" stroke="#222" stroke-width="0.9"/>
<text x="67.40" y="254.40" font-size="6.0" text-anchor="end" font-weight="normal" font-style="normal" fill="#222" transform="rotate(-45 67.4 254.4)" stroke="#222" stroke-width="0.16">ProE</text>
<line x1="78.10" y1="245.60" x2="78.10" y2="248.60" stroke="#222" stroke-width="0.9"/>
<text x="80.10" y="254.40" font-size="6.0" text-anchor="end" font-weight="normal" font-style="normal" fill="#222" transform="rotate(-45 80.1 254.4)" stroke="#222" stroke-width="0.16">Baso1</text>
<line x1="90.80" y1="245.60" x2="90.80" y2="248.60" stroke="#222" stroke-width="0.9"/>
<text x="92.80" y="254.40" font-size="6.0" text-anchor="end" font-weight="normal" font-style="normal" fill="#222" transform="rotate(-45 92.8 254.4)" stroke="#222" stroke-width="0.16">Baso2</text>
<line x1="103.50" y1="245.60" x2="103.50" y2="248.60" stroke="#222" stroke-width="0.9"/>
<text x="105.50" y="254.40" font-size="6.0" text-anchor="end" font-weight="normal" font-style="normal" fill="#222" transform="rotate(-45 105.5 254.4)" stroke="#222" stroke-width="0.16">Poly</text>
<line x1="116.20" y1="245.60" x2="116.20" y2="248.60" stroke="#222" stroke-width="0.9"/>
<text x="118.20" y="254.40" font-size="6.0" text-anchor="end" font-weight="normal" font-style="normal" fill="#222" transform="rotate(-45 118.19999999999999 254.4)" stroke="#222" stroke-width="0.16">Ortho</text>
<line x1="46.00" y1="272.00" x2="55.00" y2="272.00" stroke="#8a7cc0" stroke-width="1.1"/>
<text x="57.20" y="274.00" font-size="5.6" text-anchor="start" font-weight="normal" font-style="normal" fill="#222" stroke="#222" stroke-width="0.16">SAMD1</text>
<line x1="82.50" y1="272.00" x2="92.00" y2="272.00" stroke="#2aa6d8" stroke-width="1.1"/>
<text x="94.40" y="274.00" font-size="5.6" text-anchor="start" font-weight="normal" font-style="normal" fill="#222" stroke="#222" stroke-width="0.16">LSD1</text>
<text x="139.40" y="161.60" font-size="10.5" text-anchor="start" font-weight="bold" font-style="normal" fill="#111" stroke="#111" stroke-width="0.35">E</text>
<rect x="138.40" y="176.00" width="215.00" height="60.50" fill="none" stroke="#5a5a5a" stroke-width="1.0"/>
<line x1="138.40" y1="185.60" x2="353.40" y2="185.60" stroke="#5a5a5a" stroke-width="1.0"/>
<text x="144.20" y="182.90" font-size="5.9" text-anchor="start" font-weight="normal" font-style="normal" fill="#222" stroke="#222" stroke-width="0.16">Day:</text>
<text x="164.30" y="182.90" font-size="5.9" text-anchor="middle" font-weight="normal" font-style="normal" fill="#222" stroke="#222" stroke-width="0.16">0</text>
<text x="222.40" y="182.90" font-size="5.9" text-anchor="middle" font-weight="normal" font-style="normal" fill="#222" stroke="#222" stroke-width="0.16">6</text>
<text x="248.30" y="182.90" font-size="5.9" text-anchor="middle" font-weight="normal" font-style="normal" fill="#222" stroke="#222" stroke-width="0.16">8</text>
<text x="284.60" y="182.90" font-size="5.9" text-anchor="middle" font-weight="normal" font-style="normal" fill="#222" stroke="#222" stroke-width="0.16">12</text>
<text x="338.20" y="182.90" font-size="5.9" text-anchor="middle" font-weight="normal" font-style="normal" fill="#222" stroke="#222" stroke-width="0.16">17</text>
<text x="164.20" y="195.50" font-size="5.9" text-anchor="middle" font-weight="normal" font-style="normal" fill="#222" stroke="#222" stroke-width="0.16">Thaw</text>
<text x="164.20" y="202.50" font-size="5.9" text-anchor="middle" font-weight="normal" font-style="normal" fill="#222" stroke="#222" stroke-width="0.16">Human CD34+</text>
<text x="222.50" y="202.50" font-size="5.9" text-anchor="middle" font-weight="normal" font-style="normal" fill="#222" stroke="#222" stroke-width="0.16">Infect</text>
<text x="248.30" y="195.50" font-size="5.9" text-anchor="middle" font-weight="normal" font-style="normal" fill="#222" stroke="#222" stroke-width="0.16">Puro.</text>
<text x="248.30" y="202.50" font-size="5.9" text-anchor="middle" font-weight="normal" font-style="normal" fill="#222" stroke="#222" stroke-width="0.16">Select</text>
<text x="285.30" y="195.00" font-size="5.9" text-anchor="middle" font-weight="normal" font-style="normal" fill="#222" stroke="#222" stroke-width="0.16">Flow</text>
<text x="285.30" y="202.20" font-size="5.9" text-anchor="middle" font-weight="normal" font-style="normal" fill="#222" stroke="#222" stroke-width="0.16">Signaling</text>
<text x="285.30" y="209.50" font-size="5.9" text-anchor="middle" font-weight="normal" font-style="normal" fill="#222" stroke="#222" stroke-width="0.16">RNA-seq</text>
<text x="338.50" y="202.50" font-size="5.9" text-anchor="middle" font-weight="normal" font-style="normal" fill="#222" stroke="#222" stroke-width="0.16">Flow</text>
<line x1="164.20" y1="206.50" x2="164.20" y2="220.80" stroke="#222" stroke-width="0.8" marker-end="url(#ah)"/>
<line x1="222.40" y1="206.50" x2="222.40" y2="220.80" stroke="#222" stroke-width="0.8" marker-end="url(#ah)"/>
<line x1="248.30" y1="206.50" x2="248.30" y2="220.80" stroke="#222" stroke-width="0.8" marker-end="url(#ah)"/>
<line x1="285.40" y1="211.00" x2="285.40" y2="220.80" stroke="#222" stroke-width="0.8" marker-end="url(#ah)"/>
<line x1="338.50" y1="206.50" x2="338.50" y2="220.80" stroke="#222" stroke-width="0.8" marker-end="url(#ah)"/>
<rect x="164.00" y="222.60" width="51.40" height="8.20" fill="#c0132b" stroke="#7e0d18" stroke-width="0.7"/>
<rect x="215.40" y="222.60" width="70.20" height="8.20" fill="#e98f84" stroke="#a03e36" stroke-width="0.7"/>
<rect x="285.60" y="222.60" width="53.40" height="8.20" fill="#f6c6be" stroke="#a0625a" stroke-width="0.7"/>
<text x="186.00" y="229.00" font-size="5.9" text-anchor="middle" font-weight="normal" font-style="normal" fill="#fbe4e4" stroke="#fbe4e4" stroke-width="0.16">Expansion</text>
<text x="250.50" y="229.00" font-size="5.9" text-anchor="middle" font-weight="normal" font-style="normal" fill="#5a2020" stroke="#5a2020" stroke-width="0.16">D 1</text>
<text x="312.30" y="229.00" font-size="5.9" text-anchor="middle" font-weight="normal" font-style="normal" fill="#5a2828" stroke="#5a2828" stroke-width="0.16">D 2</text>
<text x="366.50" y="161.20" font-size="10.5" text-anchor="start" font-weight="bold" font-style="normal" fill="#111" stroke="#111" stroke-width="0.35">F</text>
<text x="411.80" y="177.40" font-size="7.9" text-anchor="middle" font-weight="normal" font-style="normal" fill="#222" stroke="#222" stroke-width="0.16">sgControl</text>
<line x1="392.80" y1="179.60" x2="431.60" y2="179.60" stroke="#222" stroke-width="0.9"/>
<text x="453.60" y="177.40" font-size="7.9" text-anchor="middle" font-weight="normal" font-style="normal" fill="#222" stroke="#222" stroke-width="0.16">sg<tspan font-style="italic">SAMD1</tspan></text>
<line x1="434.00" y1="179.60" x2="474.60" y2="179.60" stroke="#222" stroke-width="0.9"/>
<text x="385.20" y="187.90" font-size="6.2" text-anchor="end" font-weight="normal" font-style="normal" fill="#222" stroke="#222" stroke-width="0.16">T7E1:</text>
<text x="401.30" y="187.80" font-size="5.9" text-anchor="middle" font-weight="normal" font-style="normal" fill="#222" stroke="#222" stroke-width="0.16">–</text>
<text x="424.00" y="187.80" font-size="5.9" text-anchor="middle" font-weight="normal" font-style="normal" fill="#222" stroke="#222" stroke-width="0.16">+</text>
<text x="443.40" y="187.80" font-size="5.9" text-anchor="middle" font-weight="normal" font-style="normal" fill="#222" stroke="#222" stroke-width="0.16">–</text>
<text x="466.40" y="187.80" font-size="5.9" text-anchor="middle" font-weight="normal" font-style="normal" fill="#222" stroke="#222" stroke-width="0.16">+</text>
<rect x="389.30" y="188.20" width="86.80" height="48.30" fill="url(#gel)"/>
<rect x="395.10" y="191.00" width="15.50" height="44.00" fill="#444444"/>
<rect x="415.80" y="191.00" width="15.50" height="44.00" fill="#444444"/>
<rect x="436.90" y="191.00" width="15.50" height="44.00" fill="#444444"/>
<rect x="457.50" y="191.00" width="15.50" height="44.00" fill="#444444"/>
<rect x="394.1" y="196.9" width="16.7" height="4.9" rx="2.2" fill="url(#band)"/>
<rect x="414.7" y="196.9" width="16.9" height="4.9" rx="2.2" fill="url(#band)"/>
<rect x="435.8" y="196.9" width="16.8" height="4.9" rx="2.2" fill="url(#band)"/>
<rect x="456.4" y="196.9" width="17.2" height="4.9" rx="2.2" fill="url(#band)"/>
<ellipse cx="465.0" cy="214.0" rx="7.4" ry="2.2" fill="url(#lb1)"/>
<ellipse cx="465.0" cy="224.4" rx="7.2" ry="2.1" fill="url(#lb2)"/>
<line x1="385.60" y1="199.40" x2="389.30" y2="199.40" stroke="#222" stroke-width="0.8"/>
<text x="384.00" y="201.40" font-size="5.8" text-anchor="end" font-weight="normal" font-style="normal" fill="#222" stroke="#222" stroke-width="0.16">500bp</text>
<line x1="385.60" y1="212.40" x2="389.30" y2="212.40" stroke="#222" stroke-width="0.8"/>
<text x="384.00" y="214.40" font-size="5.8" text-anchor="end" font-weight="normal" font-style="normal" fill="#222" stroke="#222" stroke-width="0.16">300bp</text>
<line x1="385.60" y1="224.30" x2="389.30" y2="224.30" stroke="#222" stroke-width="0.8"/>
<text x="384.00" y="226.30" font-size="5.8" text-anchor="end" font-weight="normal" font-style="normal" fill="#222" stroke="#222" stroke-width="0.16">200bp</text>
<text x="6.00" y="300.80" font-size="10.5" text-anchor="start" font-weight="bold" font-style="normal" fill="#111" stroke="#111" stroke-width="0.35">G</text>
<text x="37.00" y="316.00" font-size="5.4" text-anchor="start" font-weight="normal" font-style="normal" fill="#333" transform="rotate(-59 37.0 316.0)" stroke="#333" stroke-width="0.3">sgControl</text>
<text x="58.50" y="316.00" font-size="5.4" text-anchor="start" font-weight="normal" font-style="normal" fill="#333" transform="rotate(-59 58.5 316.0)" stroke="#333" stroke-width="0.3">sg<tspan font-style="italic">SAMD1</tspan></text>
<line x1="29.30" y1="319.40" x2="45.20" y2="319.40" stroke="#555" stroke-width="1.0"/>
<line x1="50.50" y1="319.40" x2="66.50" y2="319.40" stroke="#555" stroke-width="1.0"/>
<rect x="26.90" y="324.20" width="42.60" height="22.00" fill="#9d9d9d" stroke="#1a1a1a" stroke-width="1.0"/>
<rect x="26.90" y="350.20" width="42.60" height="40.20" fill="#9d9d9d" stroke="#1a1a1a" stroke-width="1.0"/>
<ellipse cx="38.0" cy="335.6" rx="7.6" ry="1.7" fill="#555"/>
<ellipse cx="58.5" cy="335.0" rx="7.2" ry="1.3" fill="#7e7e7e"/>
<rect x="29.2" y="366.7" width="18.4" height="4.9" rx="2.4" fill="#464646"/>
<rect x="50.0" y="366.2" width="17.2" height="4.9" rx="2.4" fill="#474747"/>
<line x1="23.80" y1="326.30" x2="26.90" y2="326.30" stroke="#222" stroke-width="0.8"/>
<text x="22.20" y="328.30" font-size="5.6" text-anchor="end" font-weight="normal" font-style="normal" fill="#222" stroke="#222" stroke-width="0.16">75 kD</text>
<line x1="23.80" y1="352.50" x2="26.90" y2="352.50" stroke="#222" stroke-width="0.8"/>
<text x="22.20" y="354.50" font-size="5.6" text-anchor="end" font-weight="normal" font-style="normal" fill="#222" stroke="#222" stroke-width="0.16">50 kD</text>
<line x1="23.80" y1="387.80" x2="26.90" y2="387.80" stroke="#222" stroke-width="0.8"/>
<text x="22.20" y="389.80" font-size="5.6" text-anchor="end" font-weight="normal" font-style="normal" fill="#222" stroke="#222" stroke-width="0.16">37 kD</text>
<line x1="76.50" y1="335.20" x2="70.80" y2="335.20" stroke="#222" stroke-width="0.8" marker-end="url(#ah)"/>
<text x="76.20" y="337.40" font-size="5.9" text-anchor="start" font-weight="normal" font-style="normal" fill="#222" stroke="#222" stroke-width="0.16">SAMD1</text>
<line x1="76.50" y1="367.60" x2="70.80" y2="367.60" stroke="#222" stroke-width="0.8" marker-end="url(#ah)"/>
<text x="76.20" y="369.80" font-size="5.9" text-anchor="start" font-weight="normal" font-style="normal" fill="#222" stroke="#222" stroke-width="0.16">Actin</text>
<text x="102.50" y="300.40" font-size="10.5" text-anchor="start" font-weight="bold" font-style="normal" fill="#111" stroke="#111" stroke-width="0.35">H</text>
<rect x="100.50" y="331.90" width="126.70" height="72.50" fill="none" stroke="#333" stroke-width="0.9"/>
<text x="164.30" y="319.80" font-size="5.9" text-anchor="middle" font-weight="normal" font-style="normal" fill="#222" stroke="#222" stroke-width="0.16">SAMD1 Activated</text>
<text x="164.30" y="326.90" font-size="5.8" text-anchor="middle" font-weight="normal" font-style="normal" fill="#222" stroke="#222" stroke-width="0.16">Gene Ontology · Cellular Processes</text>
<rect x="106.80" y="335.30" width="114.20" height="4.40" fill="#c4c0ea"/>
<text x="107.80" y="338.80" font-size="3.9" text-anchor="start" font-weight="normal" font-style="normal" fill="#40406a"><tspan>Hemostasis (7 genes)</tspan></text>
<rect x="106.80" y="342.35" width="108.00" height="4.40" fill="#c4c0ea"/>
<text x="107.80" y="345.85" font-size="3.9" text-anchor="start" font-weight="normal" font-style="normal" fill="#40406a"><tspan>Signal Transduction (20 genes)</tspan></text>
<rect x="106.80" y="349.40" width="103.70" height="4.40" fill="#c4c0ea"/>
<text x="107.80" y="352.90" font-size="3.9" text-anchor="start" font-weight="normal" font-style="normal" fill="#40406a"><tspan>Platelet Activation, Signaling, Aggregation (7 genes)</tspan></text>
<rect x="106.80" y="356.45" width="91.20" height="4.40" fill="#c4c0ea"/>
<text x="107.80" y="359.95" font-size="3.9" text-anchor="start" font-weight="normal" font-style="normal" fill="#40406a"><tspan>Cytokine Signaling in Immune System (8 genes)</tspan></text>
<rect x="106.80" y="363.50" width="91.20" height="4.40" fill="#c4c0ea"/>
<text x="107.80" y="367.00" font-size="3.9" text-anchor="start" font-weight="normal" font-style="normal" fill="#40406a"><tspan>Kinase And Transcription Factor Activation (3 genes)</tspan></text>
<rect x="106.80" y="370.55" width="88.70" height="4.40" fill="#c4c0ea"/>
<text x="107.80" y="374.05" font-size="3.9" text-anchor="start" font-weight="normal" font-style="normal" fill="#40406a"><tspan>Signaling By Rho GTPases (11 genes)</tspan></text>
<line x1="106.30" y1="377.20" x2="223.70" y2="377.20" stroke="#111" stroke-width="0.9"/>
<line x1="107.30" y1="377.20" x2="107.30" y2="379.20" stroke="#222" stroke-width="0.8"/>
<text x="107.30" y="388.20" font-size="5.6" text-anchor="middle" font-weight="normal" font-style="normal" fill="#222" stroke="#222" stroke-width="0.16">0</text>
<line x1="130.00" y1="377.20" x2="130.00" y2="379.20" stroke="#222" stroke-width="0.8"/>
<text x="130.00" y="388.20" font-size="5.6" text-anchor="middle" font-weight="normal" font-style="normal" fill="#222" stroke="#222" stroke-width="0.16">1</text>
<line x1="152.70" y1="377.20" x2="152.70" y2="379.20" stroke="#222" stroke-width="0.8"/>
<text x="152.70" y="388.20" font-size="5.6" text-anchor="middle" font-weight="normal" font-style="normal" fill="#222" stroke="#222" stroke-width="0.16">2</text>
<line x1="175.40" y1="377.20" x2="175.40" y2="379.20" stroke="#222" stroke-width="0.8"/>
<text x="175.40" y="388.20" font-size="5.6" text-anchor="middle" font-weight="normal" font-style="normal" fill="#222" stroke="#222" stroke-width="0.16">3</text>
<line x1="198.10" y1="377.20" x2="198.10" y2="379.20" stroke="#222" stroke-width="0.8"/>
<text x="198.10" y="388.20" font-size="5.6" text-anchor="middle" font-weight="normal" font-style="normal" fill="#222" stroke="#222" stroke-width="0.16">4</text>
<line x1="220.80" y1="377.20" x2="220.80" y2="379.20" stroke="#222" stroke-width="0.8"/>
<text x="220.80" y="388.20" font-size="5.6" text-anchor="middle" font-weight="normal" font-style="normal" fill="#222" stroke="#222" stroke-width="0.16">5</text>
<text x="164.30" y="398.80" font-size="5.6" text-anchor="middle" font-weight="normal" font-style="normal" fill="#222" stroke="#222" stroke-width="0.16">–Log<tspan font-size="3.4" dy="1.8">10</tspan><tspan dy="-1.8"> (</tspan><tspan font-style="italic">P-value</tspan>)</text>
<rect x="385.00" y="354.60" width="128.40" height="50.20" fill="none" stroke="#333" stroke-width="0.9"/>
<text x="449.50" y="343.40" font-size="5.9" text-anchor="middle" font-weight="normal" font-style="normal" fill="#222" stroke="#222" stroke-width="0.16">SAMD1 Repressed</text>
<text x="449.50" y="350.50" font-size="5.8" text-anchor="middle" font-weight="normal" font-style="normal" fill="#222" stroke="#222" stroke-width="0.16">Gene Ontology · Cellular Processes</text>
<rect x="390.60" y="357.10" width="113.40" height="4.40" fill="#c4c0ea"/>
<text x="391.60" y="360.60" font-size="3.9" text-anchor="start" font-weight="normal" font-style="normal" fill="#40406a"><tspan>Heme Metabolism (9 genes)</tspan></text>
<rect x="390.60" y="364.00" width="45.40" height="4.40" fill="#c4c0ea"/>
<text x="391.60" y="367.50" font-size="3.9" text-anchor="start" font-weight="normal" font-style="normal" fill="#40406a"><tspan>Reactive Oxygen Species</tspan><tspan fill="#555"> Pathway (3 genes)</tspan></text>
<rect x="390.60" y="370.90" width="30.00" height="4.40" fill="#c4c0ea"/>
<text x="391.60" y="374.40" font-size="3.9" text-anchor="start" font-weight="normal" font-style="normal" fill="#40406a"><tspan>IL6/JAK/STAT3</tspan><tspan fill="#555"> Signaling (3 genes)</tspan></text>
<line x1="390.10" y1="378.40" x2="510.60" y2="378.40" stroke="#111" stroke-width="0.9"/>
<line x1="391.10" y1="378.40" x2="391.10" y2="380.40" stroke="#222" stroke-width="0.8"/>
<text x="391.10" y="389.40" font-size="5.6" text-anchor="middle" font-weight="normal" font-style="normal" fill="#222" stroke="#222" stroke-width="0.16">0</text>
<line x1="414.80" y1="378.40" x2="414.80" y2="380.40" stroke="#222" stroke-width="0.8"/>
<text x="414.80" y="389.40" font-size="5.6" text-anchor="middle" font-weight="normal" font-style="normal" fill="#222" stroke="#222" stroke-width="0.16">1</text>
<line x1="438.50" y1="378.40" x2="438.50" y2="380.40" stroke="#222" stroke-width="0.8"/>
<text x="438.50" y="389.40" font-size="5.6" text-anchor="middle" font-weight="normal" font-style="normal" fill="#222" stroke="#222" stroke-width="0.16">2</text>
<line x1="462.20" y1="378.40" x2="462.20" y2="380.40" stroke="#222" stroke-width="0.8"/>
<text x="462.20" y="389.40" font-size="5.6" text-anchor="middle" font-weight="normal" font-style="normal" fill="#222" stroke="#222" stroke-width="0.16">3</text>
<line x1="485.90" y1="378.40" x2="485.90" y2="380.40" stroke="#222" stroke-width="0.8"/>
<text x="485.90" y="389.40" font-size="5.6" text-anchor="middle" font-weight="normal" font-style="normal" fill="#222" stroke="#222" stroke-width="0.16">4</text>
<line x1="509.60" y1="378.40" x2="509.60" y2="380.40" stroke="#222" stroke-width="0.8"/>
<text x="509.60" y="389.40" font-size="5.6" text-anchor="middle" font-weight="normal" font-style="normal" fill="#222" stroke="#222" stroke-width="0.16">5</text>
<text x="449.50" y="400.00" font-size="5.6" text-anchor="middle" font-weight="normal" font-style="normal" fill="#222" stroke="#222" stroke-width="0.16">–Log<tspan font-size="3.4" dy="1.8">10</tspan><tspan dy="-1.8"> (</tspan><tspan font-style="italic">P-value</tspan>)</text>
<text x="319.20" y="309.60" font-size="7.8" text-anchor="middle" font-weight="normal" font-style="normal" fill="#222" stroke="#222" stroke-width="0.16">Erythroid-Committed CD34<tspan font-size="4.6" dy="-2.8">+</tspan><tspan dy="2.8"> Cells</tspan></text>
<line x1="261.00" y1="312.40" x2="377.20" y2="312.40" stroke="#222" stroke-width="0.9"/>
<text x="260.40" y="322.20" font-size="5.9" text-anchor="start" font-weight="normal" font-style="normal" fill="#222" stroke="#222" stroke-width="0.16">Activated: 154</text>
<text x="377.60" y="322.20" font-size="5.9" text-anchor="end" font-weight="normal" font-style="normal" fill="#222" stroke="#222" stroke-width="0.16">Repressed: 162</text>
<line x1="257.80" y1="322.80" x2="257.80" y2="340.20" stroke="#222" stroke-width="0.9"/>
<line x1="257.80" y1="342.60" x2="257.80" y2="405.40" stroke="#222" stroke-width="0.9"/>
<line x1="255.80" y1="340.20" x2="259.30" y2="340.20" stroke="#222" stroke-width="0.7"/>
<line x1="255.80" y1="342.60" x2="259.30" y2="342.60" stroke="#222" stroke-width="0.7"/>
<text x="253.80" y="326.80" font-size="5.6" text-anchor="end" font-weight="normal" font-style="normal" fill="#222" stroke="#222" stroke-width="0.16">40</text>
<line x1="255.30" y1="324.80" x2="257.80" y2="324.80" stroke="#222" stroke-width="0.8"/>
<text x="253.80" y="341.40" font-size="5.6" text-anchor="end" font-weight="normal" font-style="normal" fill="#222" stroke="#222" stroke-width="0.16">10</text>
<line x1="255.30" y1="339.40" x2="257.80" y2="339.40" stroke="#222" stroke-width="0.8"/>
<text x="253.80" y="346.20" font-size="5.6" text-anchor="end" font-weight="normal" font-style="normal" fill="#222" stroke="#222" stroke-width="0.16">10</text>
<line x1="255.30" y1="344.20" x2="257.80" y2="344.20" stroke="#222" stroke-width="0.8"/>
<text x="253.80" y="407.00" font-size="5.6" text-anchor="end" font-weight="normal" font-style="normal" fill="#222" stroke="#222" stroke-width="0.16">0</text>
<line x1="255.30" y1="405.00" x2="257.80" y2="405.00" stroke="#222" stroke-width="0.8"/>
<line x1="256.30" y1="373.80" x2="257.80" y2="373.80" stroke="#222" stroke-width="0.7"/>
<line x1="257.80" y1="405.40" x2="380.50" y2="405.40" stroke="#222" stroke-width="0.9"/>
<line x1="258.40" y1="405.40" x2="258.40" y2="407.60" stroke="#222" stroke-width="0.8"/>
<text x="258.40" y="415.70" font-size="5.6" text-anchor="middle" font-weight="normal" font-style="normal" fill="#222" stroke="#222" stroke-width="0.16">–2</text>
<line x1="288.60" y1="405.40" x2="288.60" y2="407.60" stroke="#222" stroke-width="0.8"/>
<text x="288.60" y="415.70" font-size="5.6" text-anchor="middle" font-weight="normal" font-style="normal" fill="#222" stroke="#222" stroke-width="0.16">–1</text>
<line x1="318.80" y1="405.40" x2="318.80" y2="407.60" stroke="#222" stroke-width="0.8"/>
<text x="318.80" y="415.70" font-size="5.6" text-anchor="middle" font-weight="normal" font-style="normal" fill="#222" stroke="#222" stroke-width="0.16">0</text>
<line x1="349.00" y1="405.40" x2="349.00" y2="407.60" stroke="#222" stroke-width="0.8"/>
<text x="349.00" y="415.70" font-size="5.6" text-anchor="middle" font-weight="normal" font-style="normal" fill="#222" stroke="#222" stroke-width="0.16">1</text>
<line x1="379.20" y1="405.40" x2="379.20" y2="407.60" stroke="#222" stroke-width="0.8"/>
<text x="379.20" y="415.70" font-size="5.6" text-anchor="middle" font-weight="normal" font-style="normal" fill="#222" stroke="#222" stroke-width="0.16">2</text>
<text x="319.60" y="427.00" font-size="5.7" text-anchor="middle" font-weight="normal" font-style="normal" fill="#222" stroke="#222" stroke-width="0.16">Log<tspan font-size="3.6" dy="1.6">2</tspan><tspan dy="-1.6">foldchange</tspan></text>
<text x="238.60" y="362.80" font-size="6.2" text-anchor="middle" font-weight="normal" font-style="normal" fill="#222" transform="rotate(-90 238.6 362.8)" stroke="#222" stroke-width="0.16">–Log<tspan font-size="3.6" dy="1.8">10</tspan><tspan dy="-1.8"> (</tspan><tspan font-style="italic">P</tspan>-val)</text>
<line x1="303.30" y1="322.50" x2="303.30" y2="403.00" stroke="#b8b8b8" stroke-width="0.7"/>
<line x1="334.20" y1="322.50" x2="334.20" y2="403.00" stroke="#b8b8b8" stroke-width="0.7"/>
<line x1="257.80" y1="392.60" x2="381.00" y2="392.60" stroke="#b8b8b8" stroke-width="0.7"/>
<circle cx="343.7" cy="380.0" r="0.62" fill="#cbc6f0" fill-opacity="0.8"/>
<circle cx="341.5" cy="387.7" r="0.62" fill="#cbc6f0" fill-opacity="0.8"/>
<circle cx="299.1" cy="390.8" r="0.62" fill="#cbc6f0" fill-opacity="0.8"/>
<circle cx="314.4" cy="391.4" r="0.62" fill="#cbc6f0" fill-opacity="0.8"/>
<circle cx="346.8" cy="391.1" r="0.62" fill="#cbc6f0" fill-opacity="0.8"/>
<circle cx="307.2" cy="386.6" r="0.62" fill="#cbc6f0" fill-opacity="0.8"/>
<circle cx="344.3" cy="371.9" r="0.62" fill="#cbc6f0" fill-opacity="0.8"/>
<circle cx="298.8" cy="386.1" r="0.62" fill="#cbc6f0" fill-opacity="0.8"/>
<circle cx="312.6" cy="391.6" r="0.62" fill="#cbc6f0" fill-opacity="0.8"/>
<circle cx="302.7" cy="383.0" r="0.62" fill="#cbc6f0" fill-opacity="0.8"/>
<circle cx="331.9" cy="388.5" r="0.62" fill="#cbc6f0" fill-opacity="0.8"/>
<circle cx="336.8" cy="387.8" r="0.62" fill="#cbc6f0" fill-opacity="0.8"/>
<circle cx="306.9" cy="388.3" r="0.62" fill="#cbc6f0" fill-opacity="0.8"/>
<circle cx="266.9" cy="384.6" r="0.62" fill="#cbc6f0" fill-opacity="0.8"/>
<circle cx="328.9" cy="383.5" r="0.62" fill="#cbc6f0" fill-opacity="0.8"/>
<circle cx="314.4" cy="388.9" r="0.62" fill="#cbc6f0" fill-opacity="0.8"/>
<circle cx="346.8" cy="389.1" r="0.62" fill="#cbc6f0" fill-opacity="0.8"/>
<circle cx="309.4" cy="390.6" r="0.62" fill="#cbc6f0" fill-opacity="0.8"/>
<circle cx="302.0" cy="388.2" r="0.62" fill="#cbc6f0" fill-opacity="0.8"/>
<circle cx="312.3" cy="387.0" r="0.62" fill="#cbc6f0" fill-opacity="0.8"/>
<circle cx="311.6" cy="383.0" r="0.62" fill="#cbc6f0" fill-opacity="0.8"/>
<circle cx="327.0" cy="391.9" r="0.62" fill="#cbc6f0" fill-opacity="0.8"/>
<circle cx="333.4" cy="383.5" r="0.62" fill="#cbc6f0" fill-opacity="0.8"/>
<circle cx="310.1" cy="391.9" r="0.62" fill="#cbc6f0" fill-opacity="0.8"/>
<circle cx="334.1" cy="382.4" r="0.62" fill="#cbc6f0" fill-opacity="0.8"/>
<circle cx="338.7" cy="387.7" r="0.62" fill="#cbc6f0" fill-opacity="0.8"/>
<circle cx="305.5" cy="388.7" r="0.62" fill="#cbc6f0" fill-opacity="0.8"/>
<circle cx="308.3" cy="392.0" r="0.62" fill="#cbc6f0" fill-opacity="0.8"/>
<circle cx="351.9" cy="355.0" r="0.62" fill="#cbc6f0" fill-opacity="0.8"/>
<circle cx="314.8" cy="391.7" r="0.62" fill="#cbc6f0" fill-opacity="0.8"/>
<circle cx="314.2" cy="390.6" r="0.62" fill="#cbc6f0" fill-opacity="0.8"/>
<circle cx="352.3" cy="381.4" r="0.62" fill="#cbc6f0" fill-opacity="0.8"/>
<circle cx="335.4" cy="391.5" r="0.62" fill="#cbc6f0" fill-opacity="0.8"/>
<circle cx="307.8" cy="391.9" r="0.62" fill="#cbc6f0" fill-opacity="0.8"/>
<circle cx="353.6" cy="389.2" r="0.62" fill="#cbc6f0" fill-opacity="0.8"/>
<circle cx="337.4" cy="381.3" r="0.62" fill="#cbc6f0" fill-opacity="0.8"/>
<circle cx="307.7" cy="379.9" r="0.62" fill="#cbc6f0" fill-opacity="0.8"/>
<circle cx="304.4" cy="381.8" r="0.62" fill="#cbc6f0" fill-opacity="0.8"/>
<circle cx="302.5" cy="384.2" r="0.62" fill="#cbc6f0" fill-opacity="0.8"/>
<circle cx="297.4" cy="385.0" r="0.62" fill="#cbc6f0" fill-opacity="0.8"/>
<circle cx="340.3" cy="379.2" r="0.62" fill="#cbc6f0" fill-opacity="0.8"/>
<circle cx="308.3" cy="391.3" r="0.62" fill="#cbc6f0" fill-opacity="0.8"/>
<circle cx="325.3" cy="390.4" r="0.62" fill="#cbc6f0" fill-opacity="0.8"/>
<circle cx="331.9" cy="389.9" r="0.62" fill="#cbc6f0" fill-opacity="0.8"/>
<circle cx="301.5" cy="376.1" r="0.62" fill="#cbc6f0" fill-opacity="0.8"/>
<circle cx="324.9" cy="387.1" r="0.62" fill="#cbc6f0" fill-opacity="0.8"/>
<circle cx="308.1" cy="390.0" r="0.62" fill="#cbc6f0" fill-opacity="0.8"/>
<circle cx="311.9" cy="391.6" r="0.62" fill="#cbc6f0" fill-opacity="0.8"/>
<circle cx="330.8" cy="388.5" r="0.62" fill="#cbc6f0" fill-opacity="0.8"/>
<circle cx="326.8" cy="387.5" r="0.62" fill="#cbc6f0" fill-opacity="0.8"/>
<circle cx="307.6" cy="391.4" r="0.62" fill="#cbc6f0" fill-opacity="0.8"/>
<circle cx="336.1" cy="385.6" r="0.62" fill="#cbc6f0" fill-opacity="0.8"/>
<circle cx="300.9" cy="386.7" r="0.62" fill="#cbc6f0" fill-opacity="0.8"/>
<circle cx="332.2" cy="384.8" r="0.62" fill="#cbc6f0" fill-opacity="0.8"/>
<circle cx="307.3" cy="391.9" r="0.62" fill="#cbc6f0" fill-opacity="0.8"/>
<circle cx="333.7" cy="389.7" r="0.62" fill="#cbc6f0" fill-opacity="0.8"/>
<circle cx="297.9" cy="391.5" r="0.62" fill="#cbc6f0" fill-opacity="0.8"/>
<circle cx="305.6" cy="382.5" r="0.62" fill="#cbc6f0" fill-opacity="0.8"/>
<circle cx="333.7" cy="389.4" r="0.62" fill="#cbc6f0" fill-opacity="0.8"/>
<circle cx="363.1" cy="374.7" r="0.62" fill="#cbc6f0" fill-opacity="0.8"/>
<circle cx="292.6" cy="380.1" r="0.62" fill="#cbc6f0" fill-opacity="0.8"/>
<circle cx="330.9" cy="389.1" r="0.62" fill="#cbc6f0" fill-opacity="0.8"/>
<circle cx="297.5" cy="386.4" r="0.62" fill="#cbc6f0" fill-opacity="0.8"/>
<circle cx="338.0" cy="379.3" r="0.62" fill="#cbc6f0" fill-opacity="0.8"/>
<circle cx="324.7" cy="389.0" r="0.62" fill="#cbc6f0" fill-opacity="0.8"/>
<circle cx="340.4" cy="388.3" r="0.62" fill="#cbc6f0" fill-opacity="0.8"/>
<circle cx="303.4" cy="387.6" r="0.62" fill="#cbc6f0" fill-opacity="0.8"/>
<circle cx="313.3" cy="388.1" r="0.62" fill="#cbc6f0" fill-opacity="0.8"/>
<circle cx="286.1" cy="373.1" r="0.62" fill="#cbc6f0" fill-opacity="0.8"/>
<circle cx="336.6" cy="390.2" r="0.62" fill="#cbc6f0" fill-opacity="0.8"/>
<circle cx="304.5" cy="389.2" r="0.62" fill="#cbc6f0" fill-opacity="0.8"/>
<circle cx="297.8" cy="383.6" r="0.62" fill="#cbc6f0" fill-opacity="0.8"/>
<circle cx="351.8" cy="385.5" r="0.62" fill="#cbc6f0" fill-opacity="0.8"/>
<circle cx="332.8" cy="388.9" r="0.62" fill="#cbc6f0" fill-opacity="0.8"/>
<circle cx="342.4" cy="390.7" r="0.62" fill="#cbc6f0" fill-opacity="0.8"/>
<circle cx="299.5" cy="379.3" r="0.62" fill="#cbc6f0" fill-opacity="0.8"/>
<circle cx="329.9" cy="390.5" r="0.62" fill="#cbc6f0" fill-opacity="0.8"/>
<circle cx="310.2" cy="387.9" r="0.62" fill="#cbc6f0" fill-opacity="0.8"/>
<circle cx="302.7" cy="384.5" r="0.62" fill="#cbc6f0" fill-opacity="0.8"/>
<circle cx="312.7" cy="391.3" r="0.62" fill="#cbc6f0" fill-opacity="0.8"/>
<circle cx="325.6" cy="390.1" r="0.62" fill="#cbc6f0" fill-opacity="0.8"/>
<circle cx="338.6" cy="385.3" r="0.62" fill="#cbc6f0" fill-opacity="0.8"/>
<circle cx="327.7" cy="389.7" r="0.62" fill="#cbc6f0" fill-opacity="0.8"/>
<circle cx="303.8" cy="385.2" r="0.62" fill="#cbc6f0" fill-opacity="0.8"/>
<circle cx="332.6" cy="386.9" r="0.62" fill="#cbc6f0" fill-opacity="0.8"/>
<circle cx="291.9" cy="385.9" r="0.62" fill="#cbc6f0" fill-opacity="0.8"/>
<circle cx="347.4" cy="388.4" r="0.62" fill="#cbc6f0" fill-opacity="0.8"/>
<circle cx="308.3" cy="382.9" r="0.62" fill="#cbc6f0" fill-opacity="0.8"/>
<circle cx="299.6" cy="367.2" r="0.62" fill="#cbc6f0" fill-opacity="0.8"/>
<circle cx="335.3" cy="372.9" r="0.62" fill="#cbc6f0" fill-opacity="0.8"/>
<circle cx="308.1" cy="390.7" r="0.62" fill="#cbc6f0" fill-opacity="0.8"/>
<circle cx="311.2" cy="383.6" r="0.62" fill="#cbc6f0" fill-opacity="0.8"/>
<circle cx="313.9" cy="390.8" r="0.62" fill="#cbc6f0" fill-opacity="0.8"/>
<circle cx="303.6" cy="389.0" r="0.62" fill="#cbc6f0" fill-opacity="0.8"/>
<circle cx="299.1" cy="391.5" r="0.62" fill="#cbc6f0" fill-opacity="0.8"/>
<circle cx="306.4" cy="388.4" r="0.62" fill="#cbc6f0" fill-opacity="0.8"/>
<circle cx="302.9" cy="386.1" r="0.62" fill="#cbc6f0" fill-opacity="0.8"/>
<circle cx="330.2" cy="388.3" r="0.62" fill="#cbc6f0" fill-opacity="0.8"/>
<circle cx="302.0" cy="391.4" r="0.62" fill="#cbc6f0" fill-opacity="0.8"/>
<circle cx="299.8" cy="390.6" r="0.62" fill="#cbc6f0" fill-opacity="0.8"/>
<circle cx="355.2" cy="368.4" r="0.62" fill="#cbc6f0" fill-opacity="0.8"/>
<circle cx="324.8" cy="390.2" r="0.62" fill="#cbc6f0" fill-opacity="0.8"/>
<circle cx="303.6" cy="389.4" r="0.62" fill="#cbc6f0" fill-opacity="0.8"/>
<circle cx="333.3" cy="383.2" r="0.62" fill="#cbc6f0" fill-opacity="0.8"/>
<circle cx="334.6" cy="376.9" r="0.62" fill="#cbc6f0" fill-opacity="0.8"/>
<circle cx="355.1" cy="382.3" r="0.62" fill="#cbc6f0" fill-opacity="0.8"/>
<circle cx="303.2" cy="387.4" r="0.62" fill="#cbc6f0" fill-opacity="0.8"/>
<circle cx="347.0" cy="391.0" r="0.62" fill="#cbc6f0" fill-opacity="0.8"/>
<circle cx="371.4" cy="374.5" r="0.62" fill="#cbc6f0" fill-opacity="0.8"/>
<circle cx="311.0" cy="383.5" r="0.62" fill="#cbc6f0" fill-opacity="0.8"/>
<circle cx="329.1" cy="387.5" r="0.62" fill="#cbc6f0" fill-opacity="0.8"/>
<circle cx="294.5" cy="387.6" r="0.62" fill="#cbc6f0" fill-opacity="0.8"/>
<circle cx="340.5" cy="389.8" r="0.62" fill="#cbc6f0" fill-opacity="0.8"/>
<circle cx="299.4" cy="389.8" r="0.62" fill="#cbc6f0" fill-opacity="0.8"/>
<circle cx="285.2" cy="371.3" r="0.62" fill="#cbc6f0" fill-opacity="0.8"/>
<circle cx="312.2" cy="388.8" r="0.62" fill="#cbc6f0" fill-opacity="0.8"/>
<circle cx="311.9" cy="387.8" r="0.62" fill="#cbc6f0" fill-opacity="0.8"/>
<circle cx="312.3" cy="387.6" r="0.62" fill="#cbc6f0" fill-opacity="0.8"/>
<circle cx="330.6" cy="387.3" r="0.62" fill="#cbc6f0" fill-opacity="0.8"/>
<circle cx="312.7" cy="385.0" r="0.62" fill="#cbc6f0" fill-opacity="0.8"/>
<circle cx="274.6" cy="376.0" r="0.62" fill="#cbc6f0" fill-opacity="0.8"/>
<circle cx="329.8" cy="390.1" r="0.62" fill="#cbc6f0" fill-opacity="0.8"/>
<circle cx="338.6" cy="387.9" r="0.62" fill="#cbc6f0" fill-opacity="0.8"/>
<circle cx="347.7" cy="387.5" r="0.62" fill="#cbc6f0" fill-opacity="0.8"/>
<circle cx="295.9" cy="390.7" r="0.62" fill="#cbc6f0" fill-opacity="0.8"/>
<circle cx="292.4" cy="384.7" r="0.62" fill="#cbc6f0" fill-opacity="0.8"/>
<circle cx="314.7" cy="391.8" r="0.62" fill="#cbc6f0" fill-opacity="0.8"/>
<circle cx="324.5" cy="389.7" r="0.62" fill="#cbc6f0" fill-opacity="0.8"/>
<circle cx="337.1" cy="390.3" r="0.62" fill="#cbc6f0" fill-opacity="0.8"/>
<circle cx="311.3" cy="380.5" r="0.62" fill="#cbc6f0" fill-opacity="0.8"/>
<circle cx="333.7" cy="384.4" r="0.62" fill="#cbc6f0" fill-opacity="0.8"/>
<circle cx="291.1" cy="389.2" r="0.62" fill="#cbc6f0" fill-opacity="0.8"/>
<circle cx="340.2" cy="381.5" r="0.62" fill="#cbc6f0" fill-opacity="0.8"/>
<circle cx="303.7" cy="387.5" r="0.62" fill="#cbc6f0" fill-opacity="0.8"/>
<circle cx="314.0" cy="390.4" r="0.62" fill="#cbc6f0" fill-opacity="0.8"/>
<circle cx="293.3" cy="389.7" r="0.62" fill="#cbc6f0" fill-opacity="0.8"/>
<circle cx="336.7" cy="378.7" r="0.62" fill="#cbc6f0" fill-opacity="0.8"/>
<circle cx="286.0" cy="378.9" r="0.62" fill="#cbc6f0" fill-opacity="0.8"/>
<circle cx="306.4" cy="378.8" r="0.62" fill="#cbc6f0" fill-opacity="0.8"/>
<circle cx="326.0" cy="391.4" r="0.62" fill="#cbc6f0" fill-opacity="0.8"/>
<circle cx="326.3" cy="387.3" r="0.62" fill="#cbc6f0" fill-opacity="0.8"/>
<circle cx="308.3" cy="391.4" r="0.62" fill="#cbc6f0" fill-opacity="0.8"/>
<circle cx="335.7" cy="377.5" r="0.62" fill="#cbc6f0" fill-opacity="0.8"/>
<circle cx="324.9" cy="387.8" r="0.62" fill="#cbc6f0" fill-opacity="0.8"/>
<circle cx="309.0" cy="382.3" r="0.62" fill="#cbc6f0" fill-opacity="0.8"/>
<circle cx="322.6" cy="391.0" r="0.62" fill="#cbc6f0" fill-opacity="0.8"/>
<circle cx="312.4" cy="391.3" r="0.62" fill="#cbc6f0" fill-opacity="0.8"/>
<circle cx="336.9" cy="376.3" r="0.62" fill="#cbc6f0" fill-opacity="0.8"/>
<circle cx="301.0" cy="386.8" r="0.62" fill="#cbc6f0" fill-opacity="0.8"/>
<circle cx="296.8" cy="383.3" r="0.62" fill="#cbc6f0" fill-opacity="0.8"/>
<circle cx="333.8" cy="389.0" r="0.62" fill="#cbc6f0" fill-opacity="0.8"/>
<circle cx="308.3" cy="386.5" r="0.62" fill="#cbc6f0" fill-opacity="0.8"/>
<circle cx="305.1" cy="386.0" r="0.62" fill="#cbc6f0" fill-opacity="0.8"/>
<circle cx="325.6" cy="388.4" r="0.62" fill="#cbc6f0" fill-opacity="0.8"/>
<circle cx="325.8" cy="388.9" r="0.62" fill="#cbc6f0" fill-opacity="0.8"/>
<circle cx="308.2" cy="389.7" r="0.62" fill="#cbc6f0" fill-opacity="0.8"/>
<circle cx="304.2" cy="382.3" r="0.62" fill="#cbc6f0" fill-opacity="0.8"/>
<circle cx="349.4" cy="386.9" r="0.62" fill="#cbc6f0" fill-opacity="0.8"/>
<circle cx="291.8" cy="387.8" r="0.62" fill="#cbc6f0" fill-opacity="0.8"/>
<circle cx="325.2" cy="390.0" r="0.62" fill="#cbc6f0" fill-opacity="0.8"/>
<circle cx="308.3" cy="383.8" r="0.62" fill="#cbc6f0" fill-opacity="0.8"/>
<circle cx="344.0" cy="391.1" r="0.62" fill="#cbc6f0" fill-opacity="0.8"/>
<circle cx="336.2" cy="379.3" r="0.62" fill="#cbc6f0" fill-opacity="0.8"/>
<circle cx="295.1" cy="388.9" r="0.62" fill="#cbc6f0" fill-opacity="0.8"/>
<circle cx="308.7" cy="391.6" r="0.62" fill="#cbc6f0" fill-opacity="0.8"/>
<circle cx="296.4" cy="378.9" r="0.62" fill="#cbc6f0" fill-opacity="0.8"/>
<circle cx="299.0" cy="390.4" r="0.62" fill="#cbc6f0" fill-opacity="0.8"/>
<circle cx="328.7" cy="390.5" r="0.62" fill="#cbc6f0" fill-opacity="0.8"/>
<circle cx="337.0" cy="386.9" r="0.62" fill="#cbc6f0" fill-opacity="0.8"/>
<circle cx="327.2" cy="385.8" r="0.62" fill="#cbc6f0" fill-opacity="0.8"/>
<circle cx="309.6" cy="383.4" r="0.62" fill="#cbc6f0" fill-opacity="0.8"/>
<circle cx="312.4" cy="383.9" r="0.62" fill="#cbc6f0" fill-opacity="0.8"/>
<circle cx="345.1" cy="388.5" r="0.62" fill="#cbc6f0" fill-opacity="0.8"/>
<circle cx="322.6" cy="391.9" r="0.62" fill="#cbc6f0" fill-opacity="0.8"/>
<circle cx="335.5" cy="390.3" r="0.62" fill="#cbc6f0" fill-opacity="0.8"/>
<circle cx="343.1" cy="371.5" r="0.62" fill="#cbc6f0" fill-opacity="0.8"/>
<circle cx="311.6" cy="385.9" r="0.62" fill="#cbc6f0" fill-opacity="0.8"/>
<circle cx="310.2" cy="389.1" r="0.62" fill="#cbc6f0" fill-opacity="0.8"/>
<circle cx="291.4" cy="389.1" r="0.62" fill="#cbc6f0" fill-opacity="0.8"/>
<circle cx="310.0" cy="388.6" r="0.62" fill="#cbc6f0" fill-opacity="0.8"/>
<circle cx="340.3" cy="388.7" r="0.62" fill="#cbc6f0" fill-opacity="0.8"/>
<circle cx="326.7" cy="387.5" r="0.62" fill="#cbc6f0" fill-opacity="0.8"/>
<circle cx="335.0" cy="385.6" r="0.62" fill="#cbc6f0" fill-opacity="0.8"/>
<circle cx="325.6" cy="391.8" r="0.62" fill="#cbc6f0" fill-opacity="0.8"/>
<circle cx="305.0" cy="386.7" r="0.62" fill="#cbc6f0" fill-opacity="0.8"/>
<circle cx="331.1" cy="391.7" r="0.62" fill="#cbc6f0" fill-opacity="0.8"/>
<circle cx="366.3" cy="383.7" r="0.62" fill="#cbc6f0" fill-opacity="0.8"/>
<circle cx="333.2" cy="391.5" r="0.62" fill="#cbc6f0" fill-opacity="0.8"/>
<circle cx="282.0" cy="388.6" r="0.62" fill="#cbc6f0" fill-opacity="0.8"/>
<circle cx="311.5" cy="391.7" r="0.62" fill="#cbc6f0" fill-opacity="0.8"/>
<circle cx="306.4" cy="375.4" r="0.62" fill="#cbc6f0" fill-opacity="0.8"/>
<circle cx="299.4" cy="386.4" r="0.62" fill="#cbc6f0" fill-opacity="0.8"/>
<circle cx="310.8" cy="391.7" r="0.62" fill="#cbc6f0" fill-opacity="0.8"/>
<circle cx="311.8" cy="389.4" r="0.62" fill="#cbc6f0" fill-opacity="0.8"/>
<circle cx="299.6" cy="391.2" r="0.62" fill="#cbc6f0" fill-opacity="0.8"/>
<circle cx="331.2" cy="386.5" r="0.62" fill="#cbc6f0" fill-opacity="0.8"/>
<circle cx="323.9" cy="389.3" r="0.62" fill="#cbc6f0" fill-opacity="0.8"/>
<circle cx="277.9" cy="373.7" r="0.62" fill="#cbc6f0" fill-opacity="0.8"/>
<circle cx="296.6" cy="390.4" r="0.62" fill="#cbc6f0" fill-opacity="0.8"/>
<circle cx="339.8" cy="390.1" r="0.62" fill="#cbc6f0" fill-opacity="0.8"/>
<circle cx="313.3" cy="386.0" r="0.62" fill="#cbc6f0" fill-opacity="0.8"/>
<circle cx="306.1" cy="387.8" r="0.62" fill="#cbc6f0" fill-opacity="0.8"/>
<circle cx="305.8" cy="379.3" r="0.62" fill="#cbc6f0" fill-opacity="0.8"/>
<circle cx="323.7" cy="390.2" r="0.62" fill="#cbc6f0" fill-opacity="0.8"/>
<circle cx="300.6" cy="386.1" r="0.62" fill="#cbc6f0" fill-opacity="0.8"/>
<circle cx="302.3" cy="383.5" r="0.62" fill="#cbc6f0" fill-opacity="0.8"/>
<circle cx="305.7" cy="387.2" r="0.62" fill="#cbc6f0" fill-opacity="0.8"/>
<circle cx="331.9" cy="389.4" r="0.62" fill="#cbc6f0" fill-opacity="0.8"/>
<circle cx="323.7" cy="389.5" r="0.62" fill="#cbc6f0" fill-opacity="0.8"/>
<circle cx="285.0" cy="382.3" r="0.62" fill="#cbc6f0" fill-opacity="0.8"/>
<circle cx="344.2" cy="382.1" r="0.62" fill="#cbc6f0" fill-opacity="0.8"/>
<circle cx="299.8" cy="388.5" r="0.62" fill="#cbc6f0" fill-opacity="0.8"/>
<circle cx="327.4" cy="389.0" r="0.62" fill="#cbc6f0" fill-opacity="0.8"/>
<circle cx="328.6" cy="389.9" r="0.62" fill="#cbc6f0" fill-opacity="0.8"/>
<circle cx="310.8" cy="388.7" r="0.62" fill="#cbc6f0" fill-opacity="0.8"/>
<circle cx="326.1" cy="391.5" r="0.62" fill="#cbc6f0" fill-opacity="0.8"/>
<circle cx="294.1" cy="388.6" r="0.62" fill="#cbc6f0" fill-opacity="0.8"/>
<circle cx="332.2" cy="389.9" r="0.62" fill="#cbc6f0" fill-opacity="0.8"/>
<circle cx="311.8" cy="391.5" r="0.62" fill="#cbc6f0" fill-opacity="0.8"/>
<circle cx="293.9" cy="384.9" r="0.62" fill="#cbc6f0" fill-opacity="0.8"/>
<circle cx="329.0" cy="384.3" r="0.62" fill="#cbc6f0" fill-opacity="0.8"/>
<circle cx="306.3" cy="390.5" r="0.62" fill="#cbc6f0" fill-opacity="0.8"/>
<circle cx="337.7" cy="389.3" r="0.62" fill="#cbc6f0" fill-opacity="0.8"/>
<circle cx="336.9" cy="388.5" r="0.62" fill="#cbc6f0" fill-opacity="0.8"/>
<circle cx="329.5" cy="388.3" r="0.62" fill="#cbc6f0" fill-opacity="0.8"/>
<circle cx="286.4" cy="391.5" r="0.62" fill="#cbc6f0" fill-opacity="0.8"/>
<circle cx="328.9" cy="391.9" r="0.62" fill="#cbc6f0" fill-opacity="0.8"/>
<circle cx="296.5" cy="383.9" r="0.62" fill="#cbc6f0" fill-opacity="0.8"/>
<circle cx="353.1" cy="382.4" r="0.62" fill="#cbc6f0" fill-opacity="0.8"/>
<circle cx="309.8" cy="390.8" r="0.62" fill="#cbc6f0" fill-opacity="0.8"/>
<circle cx="327.7" cy="379.2" r="0.62" fill="#cbc6f0" fill-opacity="0.8"/>
<circle cx="311.4" cy="387.3" r="0.62" fill="#cbc6f0" fill-opacity="0.8"/>
<circle cx="349.3" cy="371.6" r="0.62" fill="#cbc6f0" fill-opacity="0.8"/>
<circle cx="295.0" cy="386.8" r="0.62" fill="#cbc6f0" fill-opacity="0.8"/>
<circle cx="330.9" cy="382.7" r="0.62" fill="#cbc6f0" fill-opacity="0.8"/>
<circle cx="307.4" cy="378.2" r="0.62" fill="#cbc6f0" fill-opacity="0.8"/>
<circle cx="312.8" cy="391.8" r="0.62" fill="#cbc6f0" fill-opacity="0.8"/>
<circle cx="327.2" cy="390.3" r="0.62" fill="#cbc6f0" fill-opacity="0.8"/>
<circle cx="304.8" cy="388.0" r="0.62" fill="#cbc6f0" fill-opacity="0.8"/>
<circle cx="329.5" cy="389.0" r="0.62" fill="#cbc6f0" fill-opacity="0.8"/>
<circle cx="329.9" cy="382.1" r="0.62" fill="#cbc6f0" fill-opacity="0.8"/>
<circle cx="330.0" cy="387.4" r="0.62" fill="#cbc6f0" fill-opacity="0.8"/>
<circle cx="301.1" cy="384.6" r="0.62" fill="#cbc6f0" fill-opacity="0.8"/>
<circle cx="334.6" cy="380.5" r="0.62" fill="#cbc6f0" fill-opacity="0.8"/>
<circle cx="355.5" cy="381.2" r="0.62" fill="#cbc6f0" fill-opacity="0.8"/>
<circle cx="293.8" cy="387.5" r="0.62" fill="#cbc6f0" fill-opacity="0.8"/>
<circle cx="299.1" cy="382.3" r="0.62" fill="#cbc6f0" fill-opacity="0.8"/>
<circle cx="309.4" cy="390.3" r="0.62" fill="#cbc6f0" fill-opacity="0.8"/>
<circle cx="296.5" cy="363.7" r="0.62" fill="#cbc6f0" fill-opacity="0.8"/>
<circle cx="309.5" cy="389.0" r="0.62" fill="#cbc6f0" fill-opacity="0.8"/>
<circle cx="333.2" cy="390.1" r="0.62" fill="#cbc6f0" fill-opacity="0.8"/>
<circle cx="306.2" cy="389.8" r="0.62" fill="#cbc6f0" fill-opacity="0.8"/>
<circle cx="310.2" cy="383.0" r="0.62" fill="#cbc6f0" fill-opacity="0.8"/>
<circle cx="325.8" cy="391.9" r="0.62" fill="#cbc6f0" fill-opacity="0.8"/>
<circle cx="335.4" cy="377.6" r="0.62" fill="#cbc6f0" fill-opacity="0.8"/>
<circle cx="313.5" cy="389.3" r="0.62" fill="#cbc6f0" fill-opacity="0.8"/>
<circle cx="298.6" cy="386.5" r="0.62" fill="#cbc6f0" fill-opacity="0.8"/>
<circle cx="325.0" cy="390.8" r="0.62" fill="#cbc6f0" fill-opacity="0.8"/>
<circle cx="348.5" cy="388.9" r="0.62" fill="#cbc6f0" fill-opacity="0.8"/>
<circle cx="345.9" cy="380.5" r="0.62" fill="#cbc6f0" fill-opacity="0.8"/>
<circle cx="339.7" cy="378.9" r="0.62" fill="#cbc6f0" fill-opacity="0.8"/>
<circle cx="308.5" cy="388.0" r="0.62" fill="#cbc6f0" fill-opacity="0.8"/>
<circle cx="313.3" cy="388.9" r="0.62" fill="#cbc6f0" fill-opacity="0.8"/>
<circle cx="340.9" cy="369.6" r="0.62" fill="#cbc6f0" fill-opacity="0.8"/>
<circle cx="357.0" cy="382.7" r="0.62" fill="#cbc6f0" fill-opacity="0.8"/>
<circle cx="298.9" cy="379.6" r="0.62" fill="#cbc6f0" fill-opacity="0.8"/>
<circle cx="323.7" cy="388.4" r="0.62" fill="#cbc6f0" fill-opacity="0.8"/>
<circle cx="301.9" cy="388.8" r="0.62" fill="#cbc6f0" fill-opacity="0.8"/>
<circle cx="340.7" cy="391.1" r="0.62" fill="#cbc6f0" fill-opacity="0.8"/>
<circle cx="300.5" cy="385.9" r="0.62" fill="#cbc6f0" fill-opacity="0.8"/>
<circle cx="339.9" cy="387.6" r="0.62" fill="#cbc6f0" fill-opacity="0.8"/>
<circle cx="311.0" cy="392.0" r="0.62" fill="#cbc6f0" fill-opacity="0.8"/>
<circle cx="302.0" cy="381.6" r="0.62" fill="#cbc6f0" fill-opacity="0.8"/>
<circle cx="304.8" cy="378.8" r="0.62" fill="#cbc6f0" fill-opacity="0.8"/>
<circle cx="322.3" cy="391.5" r="0.62" fill="#cbc6f0" fill-opacity="0.8"/>
<circle cx="336.7" cy="391.9" r="0.62" fill="#cbc6f0" fill-opacity="0.8"/>
<circle cx="310.0" cy="388.8" r="0.62" fill="#cbc6f0" fill-opacity="0.8"/>
<circle cx="325.2" cy="390.6" r="0.62" fill="#cbc6f0" fill-opacity="0.8"/>
<circle cx="337.4" cy="387.5" r="0.62" fill="#cbc6f0" fill-opacity="0.8"/>
<circle cx="342.5" cy="389.7" r="0.62" fill="#cbc6f0" fill-opacity="0.8"/>
<circle cx="326.7" cy="391.5" r="0.62" fill="#cbc6f0" fill-opacity="0.8"/>
<circle cx="302.1" cy="389.3" r="0.62" fill="#cbc6f0" fill-opacity="0.8"/>
<circle cx="305.6" cy="391.3" r="0.62" fill="#cbc6f0" fill-opacity="0.8"/>
<circle cx="304.4" cy="385.6" r="0.62" fill="#cbc6f0" fill-opacity="0.8"/>
<circle cx="307.2" cy="380.0" r="0.62" fill="#cbc6f0" fill-opacity="0.8"/>
<circle cx="338.7" cy="387.0" r="0.62" fill="#cbc6f0" fill-opacity="0.8"/>
<circle cx="342.9" cy="383.1" r="0.62" fill="#cbc6f0" fill-opacity="0.8"/>
<circle cx="287.1" cy="378.1" r="0.62" fill="#cbc6f0" fill-opacity="0.8"/>
<circle cx="304.6" cy="389.9" r="0.62" fill="#cbc6f0" fill-opacity="0.8"/>
<circle cx="344.9" cy="373.5" r="0.62" fill="#cbc6f0" fill-opacity="0.8"/>
<circle cx="331.2" cy="387.1" r="0.62" fill="#cbc6f0" fill-opacity="0.8"/>
<circle cx="329.9" cy="384.1" r="0.62" fill="#cbc6f0" fill-opacity="0.8"/>
<circle cx="324.9" cy="389.8" r="0.62" fill="#cbc6f0" fill-opacity="0.8"/>
<circle cx="337.7" cy="388.4" r="0.62" fill="#cbc6f0" fill-opacity="0.8"/>
<circle cx="325.5" cy="391.4" r="0.62" fill="#cbc6f0" fill-opacity="0.8"/>
<circle cx="311.4" cy="390.8" r="0.62" fill="#cbc6f0" fill-opacity="0.8"/>
<circle cx="339.9" cy="391.8" r="0.62" fill="#cbc6f0" fill-opacity="0.8"/>
<circle cx="311.0" cy="390.5" r="0.62" fill="#cbc6f0" fill-opacity="0.8"/>
<circle cx="275.5" cy="365.7" r="0.62" fill="#cbc6f0" fill-opacity="0.8"/>
<circle cx="339.6" cy="376.8" r="0.62" fill="#cbc6f0" fill-opacity="0.8"/>
<circle cx="335.5" cy="376.3" r="0.62" fill="#cbc6f0" fill-opacity="0.8"/>
<circle cx="304.4" cy="381.7" r="0.62" fill="#cbc6f0" fill-opacity="0.8"/>
<circle cx="339.5" cy="388.0" r="0.62" fill="#cbc6f0" fill-opacity="0.8"/>
<circle cx="333.2" cy="386.3" r="0.62" fill="#cbc6f0" fill-opacity="0.8"/>
<circle cx="338.7" cy="367.9" r="0.62" fill="#cbc6f0" fill-opacity="0.8"/>
<circle cx="298.4" cy="390.2" r="0.62" fill="#cbc6f0" fill-opacity="0.8"/>
<circle cx="311.5" cy="389.5" r="0.62" fill="#cbc6f0" fill-opacity="0.8"/>
<circle cx="327.2" cy="390.6" r="0.62" fill="#cbc6f0" fill-opacity="0.8"/>
<circle cx="334.9" cy="382.7" r="0.62" fill="#cbc6f0" fill-opacity="0.8"/>
<circle cx="300.8" cy="390.2" r="0.62" fill="#cbc6f0" fill-opacity="0.8"/>
<circle cx="333.2" cy="387.2" r="0.62" fill="#cbc6f0" fill-opacity="0.8"/>
<circle cx="301.8" cy="386.9" r="0.62" fill="#cbc6f0" fill-opacity="0.8"/>
<circle cx="275.6" cy="366.0" r="0.62" fill="#cbc6f0" fill-opacity="0.8"/>
<circle cx="311.9" cy="387.0" r="0.62" fill="#cbc6f0" fill-opacity="0.8"/>
<circle cx="311.8" cy="386.1" r="0.62" fill="#cbc6f0" fill-opacity="0.8"/>
<circle cx="309.4" cy="388.1" r="0.62" fill="#cbc6f0" fill-opacity="0.8"/>
<circle cx="340.2" cy="384.8" r="0.62" fill="#cbc6f0" fill-opacity="0.8"/>
<circle cx="347.6" cy="390.1" r="0.62" fill="#cbc6f0" fill-opacity="0.8"/>
<circle cx="313.3" cy="388.4" r="0.62" fill="#cbc6f0" fill-opacity="0.8"/>
<circle cx="304.6" cy="387.1" r="0.62" fill="#cbc6f0" fill-opacity="0.8"/>
<circle cx="323.1" cy="390.9" r="0.62" fill="#cbc6f0" fill-opacity="0.8"/>
<circle cx="353.0" cy="386.5" r="0.62" fill="#cbc6f0" fill-opacity="0.8"/>
<circle cx="285.0" cy="375.7" r="0.62" fill="#cbc6f0" fill-opacity="0.8"/>
<circle cx="323.1" cy="390.3" r="0.62" fill="#cbc6f0" fill-opacity="0.8"/>
<circle cx="333.7" cy="381.3" r="0.62" fill="#cbc6f0" fill-opacity="0.8"/>
<circle cx="300.2" cy="388.4" r="0.62" fill="#cbc6f0" fill-opacity="0.8"/>
<circle cx="351.0" cy="390.8" r="0.62" fill="#cbc6f0" fill-opacity="0.8"/>
<circle cx="312.7" cy="389.8" r="0.62" fill="#cbc6f0" fill-opacity="0.8"/>
<circle cx="338.9" cy="386.3" r="0.62" fill="#cbc6f0" fill-opacity="0.8"/>
<circle cx="300.1" cy="390.7" r="0.62" fill="#cbc6f0" fill-opacity="0.8"/>
<circle cx="327.9" cy="391.8" r="0.62" fill="#cbc6f0" fill-opacity="0.8"/>
<circle cx="323.5" cy="390.9" r="0.62" fill="#cbc6f0" fill-opacity="0.8"/>
<circle cx="305.5" cy="390.2" r="0.62" fill="#cbc6f0" fill-opacity="0.8"/>
<circle cx="307.8" cy="384.3" r="0.62" fill="#cbc6f0" fill-opacity="0.8"/>
<circle cx="309.0" cy="388.9" r="0.62" fill="#cbc6f0" fill-opacity="0.8"/>
<circle cx="323.3" cy="388.8" r="0.62" fill="#cbc6f0" fill-opacity="0.8"/>
<circle cx="371.8" cy="383.6" r="0.62" fill="#cbc6f0" fill-opacity="0.8"/>
<circle cx="330.5" cy="381.5" r="0.62" fill="#cbc6f0" fill-opacity="0.8"/>
<circle cx="301.0" cy="387.0" r="0.62" fill="#cbc6f0" fill-opacity="0.8"/>
<circle cx="332.0" cy="388.7" r="0.62" fill="#cbc6f0" fill-opacity="0.8"/>
<circle cx="296.9" cy="389.7" r="0.62" fill="#cbc6f0" fill-opacity="0.8"/>
<circle cx="332.8" cy="384.1" r="0.62" fill="#cbc6f0" fill-opacity="0.8"/>
<circle cx="331.8" cy="383.6" r="0.62" fill="#cbc6f0" fill-opacity="0.8"/>
<circle cx="300.4" cy="390.3" r="0.62" fill="#cbc6f0" fill-opacity="0.8"/>
<circle cx="345.6" cy="390.3" r="0.62" fill="#cbc6f0" fill-opacity="0.8"/>
<circle cx="351.7" cy="384.9" r="0.62" fill="#cbc6f0" fill-opacity="0.8"/>
<circle cx="297.4" cy="387.3" r="0.62" fill="#cbc6f0" fill-opacity="0.8"/>
<circle cx="351.7" cy="379.9" r="0.62" fill="#cbc6f0" fill-opacity="0.8"/>
<circle cx="302.2" cy="385.7" r="0.62" fill="#cbc6f0" fill-opacity="0.8"/>
<circle cx="328.9" cy="387.0" r="0.62" fill="#cbc6f0" fill-opacity="0.8"/>
<circle cx="312.5" cy="391.2" r="0.62" fill="#cbc6f0" fill-opacity="0.8"/>
<circle cx="322.3" cy="392.0" r="0.62" fill="#cbc6f0" fill-opacity="0.8"/>
<circle cx="332.6" cy="390.9" r="0.62" fill="#cbc6f0" fill-opacity="0.8"/>
<circle cx="333.8" cy="378.5" r="0.62" fill="#cbc6f0" fill-opacity="0.8"/>
<circle cx="337.7" cy="384.9" r="0.62" fill="#cbc6f0" fill-opacity="0.8"/>
<circle cx="292.1" cy="391.7" r="0.62" fill="#cbc6f0" fill-opacity="0.8"/>
<circle cx="328.1" cy="389.6" r="0.62" fill="#cbc6f0" fill-opacity="0.8"/>
<circle cx="291.4" cy="375.7" r="0.62" fill="#cbc6f0" fill-opacity="0.8"/>
<circle cx="313.4" cy="390.6" r="0.62" fill="#cbc6f0" fill-opacity="0.8"/>
<circle cx="309.6" cy="390.7" r="0.62" fill="#cbc6f0" fill-opacity="0.8"/>
<circle cx="331.3" cy="391.9" r="0.62" fill="#cbc6f0" fill-opacity="0.8"/>
<circle cx="311.4" cy="387.4" r="0.62" fill="#cbc6f0" fill-opacity="0.8"/>
<circle cx="281.5" cy="385.7" r="0.62" fill="#cbc6f0" fill-opacity="0.8"/>
<circle cx="336.8" cy="384.2" r="0.62" fill="#cbc6f0" fill-opacity="0.8"/>
<circle cx="353.0" cy="384.5" r="0.62" fill="#cbc6f0" fill-opacity="0.8"/>
<circle cx="294.9" cy="389.6" r="0.62" fill="#cbc6f0" fill-opacity="0.8"/>
<circle cx="327.7" cy="391.5" r="0.62" fill="#cbc6f0" fill-opacity="0.8"/>
<circle cx="294.8" cy="380.1" r="0.62" fill="#cbc6f0" fill-opacity="0.8"/>
<circle cx="335.2" cy="390.8" r="0.62" fill="#cbc6f0" fill-opacity="0.8"/>
<circle cx="311.4" cy="387.8" r="0.62" fill="#cbc6f0" fill-opacity="0.8"/>
<circle cx="303.9" cy="386.7" r="0.62" fill="#cbc6f0" fill-opacity="0.8"/>
<circle cx="298.1" cy="369.3" r="0.62" fill="#cbc6f0" fill-opacity="0.8"/>
<circle cx="310.5" cy="390.1" r="0.62" fill="#cbc6f0" fill-opacity="0.8"/>
<circle cx="290.0" cy="388.3" r="0.62" fill="#cbc6f0" fill-opacity="0.8"/>
<circle cx="301.1" cy="387.5" r="0.62" fill="#cbc6f0" fill-opacity="0.8"/>
<circle cx="303.9" cy="392.0" r="0.62" fill="#cbc6f0" fill-opacity="0.8"/>
<circle cx="335.4" cy="382.2" r="0.62" fill="#cbc6f0" fill-opacity="0.8"/>
<circle cx="308.0" cy="390.9" r="0.62" fill="#cbc6f0" fill-opacity="0.8"/>
<circle cx="314.5" cy="390.0" r="0.62" fill="#cbc6f0" fill-opacity="0.8"/>
<circle cx="288.0" cy="390.8" r="0.62" fill="#cbc6f0" fill-opacity="0.8"/>
<circle cx="290.4" cy="386.2" r="0.62" fill="#cbc6f0" fill-opacity="0.8"/>
<circle cx="325.2" cy="392.0" r="0.62" fill="#cbc6f0" fill-opacity="0.8"/>
<circle cx="311.1" cy="387.1" r="0.62" fill="#cbc6f0" fill-opacity="0.8"/>
<circle cx="326.0" cy="389.7" r="0.62" fill="#cbc6f0" fill-opacity="0.8"/>
<circle cx="324.0" cy="387.8" r="0.62" fill="#cbc6f0" fill-opacity="0.8"/>
<circle cx="312.9" cy="386.6" r="0.62" fill="#cbc6f0" fill-opacity="0.8"/>
<circle cx="328.5" cy="390.4" r="0.62" fill="#cbc6f0" fill-opacity="0.8"/>
<circle cx="324.7" cy="387.2" r="0.62" fill="#cbc6f0" fill-opacity="0.8"/>
<circle cx="296.5" cy="390.2" r="0.62" fill="#cbc6f0" fill-opacity="0.8"/>
<circle cx="302.3" cy="380.5" r="0.62" fill="#cbc6f0" fill-opacity="0.8"/>
<circle cx="307.7" cy="386.5" r="0.62" fill="#cbc6f0" fill-opacity="0.8"/>
<circle cx="308.3" cy="386.9" r="0.62" fill="#cbc6f0" fill-opacity="0.8"/>
<circle cx="307.8" cy="386.4" r="0.62" fill="#cbc6f0" fill-opacity="0.8"/>
<circle cx="349.8" cy="382.2" r="0.62" fill="#cbc6f0" fill-opacity="0.8"/>
<circle cx="315.2" cy="391.5" r="0.62" fill="#cbc6f0" fill-opacity="0.8"/>
<circle cx="292.2" cy="387.0" r="0.62" fill="#cbc6f0" fill-opacity="0.8"/>
<circle cx="307.4" cy="386.1" r="0.62" fill="#cbc6f0" fill-opacity="0.8"/>
<circle cx="305.0" cy="389.8" r="0.62" fill="#cbc6f0" fill-opacity="0.8"/>
<circle cx="328.7" cy="383.3" r="0.62" fill="#cbc6f0" fill-opacity="0.8"/>
<circle cx="325.3" cy="391.4" r="0.62" fill="#cbc6f0" fill-opacity="0.8"/>
<circle cx="329.4" cy="390.3" r="0.62" fill="#cbc6f0" fill-opacity="0.8"/>
<circle cx="336.7" cy="385.0" r="0.62" fill="#cbc6f0" fill-opacity="0.8"/>
<circle cx="296.7" cy="389.7" r="0.62" fill="#cbc6f0" fill-opacity="0.8"/>
<circle cx="330.1" cy="389.3" r="0.62" fill="#cbc6f0" fill-opacity="0.8"/>
<circle cx="285.9" cy="391.2" r="0.62" fill="#cbc6f0" fill-opacity="0.8"/>
<circle cx="297.3" cy="391.1" r="0.62" fill="#cbc6f0" fill-opacity="0.8"/>
<circle cx="310.7" cy="392.0" r="0.62" fill="#cbc6f0" fill-opacity="0.8"/>
<circle cx="337.3" cy="378.8" r="0.62" fill="#cbc6f0" fill-opacity="0.8"/>
<circle cx="333.5" cy="388.2" r="0.62" fill="#cbc6f0" fill-opacity="0.8"/>
<circle cx="295.6" cy="370.6" r="0.62" fill="#cbc6f0" fill-opacity="0.8"/>
<circle cx="298.0" cy="389.9" r="0.62" fill="#cbc6f0" fill-opacity="0.8"/>
<circle cx="313.2" cy="387.2" r="0.62" fill="#cbc6f0" fill-opacity="0.8"/>
<circle cx="301.4" cy="389.3" r="0.62" fill="#cbc6f0" fill-opacity="0.8"/>
<circle cx="339.8" cy="374.4" r="0.62" fill="#cbc6f0" fill-opacity="0.8"/>
<circle cx="310.7" cy="388.9" r="0.62" fill="#cbc6f0" fill-opacity="0.8"/>
<circle cx="285.3" cy="384.0" r="0.62" fill="#cbc6f0" fill-opacity="0.8"/>
<circle cx="303.2" cy="388.3" r="0.62" fill="#cbc6f0" fill-opacity="0.8"/>
<circle cx="332.3" cy="375.6" r="0.62" fill="#cbc6f0" fill-opacity="0.8"/>
<circle cx="304.2" cy="390.5" r="0.62" fill="#cbc6f0" fill-opacity="0.8"/>
<circle cx="328.6" cy="390.3" r="0.62" fill="#cbc6f0" fill-opacity="0.8"/>
<circle cx="343.7" cy="390.6" r="0.62" fill="#cbc6f0" fill-opacity="0.8"/>
<circle cx="312.9" cy="386.6" r="0.62" fill="#cbc6f0" fill-opacity="0.8"/>
<circle cx="358.2" cy="362.0" r="0.62" fill="#cbc6f0" fill-opacity="0.8"/>
<circle cx="307.2" cy="380.1" r="0.62" fill="#cbc6f0" fill-opacity="0.8"/>
<circle cx="305.1" cy="391.7" r="0.62" fill="#cbc6f0" fill-opacity="0.8"/>
<circle cx="323.4" cy="389.3" r="0.62" fill="#cbc6f0" fill-opacity="0.8"/>
<circle cx="310.1" cy="383.9" r="0.62" fill="#cbc6f0" fill-opacity="0.8"/>
<circle cx="329.5" cy="387.0" r="0.62" fill="#cbc6f0" fill-opacity="0.8"/>
<circle cx="308.0" cy="389.3" r="0.62" fill="#cbc6f0" fill-opacity="0.8"/>
<circle cx="311.6" cy="384.2" r="0.62" fill="#cbc6f0" fill-opacity="0.8"/>
<circle cx="305.6" cy="384.3" r="0.62" fill="#cbc6f0" fill-opacity="0.8"/>
<circle cx="310.9" cy="391.9" r="0.62" fill="#cbc6f0" fill-opacity="0.8"/>
<circle cx="298.3" cy="380.4" r="0.62" fill="#cbc6f0" fill-opacity="0.8"/>
<circle cx="324.9" cy="389.6" r="0.62" fill="#cbc6f0" fill-opacity="0.8"/>
<circle cx="300.8" cy="389.8" r="0.62" fill="#cbc6f0" fill-opacity="0.8"/>
<circle cx="308.6" cy="388.0" r="0.62" fill="#cbc6f0" fill-opacity="0.8"/>
<circle cx="303.3" cy="391.8" r="0.62" fill="#cbc6f0" fill-opacity="0.8"/>
<circle cx="342.7" cy="388.8" r="0.62" fill="#cbc6f0" fill-opacity="0.8"/>
<circle cx="325.4" cy="389.7" r="0.62" fill="#cbc6f0" fill-opacity="0.8"/>
<circle cx="330.2" cy="385.4" r="0.62" fill="#cbc6f0" fill-opacity="0.8"/>
<circle cx="330.9" cy="387.4" r="0.62" fill="#cbc6f0" fill-opacity="0.8"/>
<circle cx="342.5" cy="388.9" r="0.62" fill="#cbc6f0" fill-opacity="0.8"/>
<circle cx="300.7" cy="391.4" r="0.62" fill="#cbc6f0" fill-opacity="0.8"/>
<circle cx="323.7" cy="389.5" r="0.62" fill="#cbc6f0" fill-opacity="0.8"/>
<circle cx="308.8" cy="383.8" r="0.62" fill="#cbc6f0" fill-opacity="0.8"/>
<circle cx="337.1" cy="387.0" r="0.62" fill="#cbc6f0" fill-opacity="0.8"/>
<circle cx="359.7" cy="385.5" r="0.62" fill="#cbc6f0" fill-opacity="0.8"/>
<circle cx="305.0" cy="376.9" r="0.62" fill="#cbc6f0" fill-opacity="0.8"/>
<circle cx="283.4" cy="373.4" r="0.62" fill="#cbc6f0" fill-opacity="0.8"/>
<circle cx="326.2" cy="390.4" r="0.62" fill="#cbc6f0" fill-opacity="0.8"/>
<circle cx="326.1" cy="391.2" r="0.62" fill="#cbc6f0" fill-opacity="0.8"/>
<circle cx="329.9" cy="391.6" r="0.62" fill="#cbc6f0" fill-opacity="0.8"/>
<circle cx="333.3" cy="384.7" r="0.62" fill="#cbc6f0" fill-opacity="0.8"/>
<circle cx="304.7" cy="391.0" r="0.62" fill="#cbc6f0" fill-opacity="0.8"/>
<circle cx="307.0" cy="389.4" r="0.62" fill="#cbc6f0" fill-opacity="0.8"/>
<circle cx="312.9" cy="387.6" r="0.62" fill="#cbc6f0" fill-opacity="0.8"/>
<circle cx="287.4" cy="388.1" r="0.62" fill="#cbc6f0" fill-opacity="0.8"/>
<circle cx="345.5" cy="384.7" r="0.62" fill="#cbc6f0" fill-opacity="0.8"/>
<circle cx="302.6" cy="378.0" r="0.62" fill="#cbc6f0" fill-opacity="0.8"/>
<circle cx="303.5" cy="389.3" r="0.62" fill="#cbc6f0" fill-opacity="0.8"/>
<circle cx="310.0" cy="389.2" r="0.62" fill="#cbc6f0" fill-opacity="0.8"/>
<circle cx="328.0" cy="388.2" r="0.62" fill="#cbc6f0" fill-opacity="0.8"/>
<circle cx="308.1" cy="391.8" r="0.62" fill="#cbc6f0" fill-opacity="0.8"/>
<circle cx="338.7" cy="378.7" r="0.62" fill="#cbc6f0" fill-opacity="0.8"/>
<circle cx="309.4" cy="385.8" r="0.62" fill="#cbc6f0" fill-opacity="0.8"/>
<circle cx="336.6" cy="386.3" r="0.62" fill="#cbc6f0" fill-opacity="0.8"/>
<circle cx="308.7" cy="383.1" r="0.62" fill="#cbc6f0" fill-opacity="0.8"/>
<circle cx="302.2" cy="386.2" r="0.62" fill="#cbc6f0" fill-opacity="0.8"/>
<circle cx="328.6" cy="391.6" r="0.62" fill="#cbc6f0" fill-opacity="0.8"/>
<circle cx="352.6" cy="379.3" r="0.62" fill="#cbc6f0" fill-opacity="0.8"/>
<circle cx="291.1" cy="382.2" r="0.62" fill="#cbc6f0" fill-opacity="0.8"/>
<circle cx="344.7" cy="389.8" r="0.62" fill="#cbc6f0" fill-opacity="0.8"/>
<circle cx="286.5" cy="386.4" r="0.62" fill="#cbc6f0" fill-opacity="0.8"/>
<circle cx="326.4" cy="390.4" r="0.62" fill="#cbc6f0" fill-opacity="0.8"/>
<circle cx="299.2" cy="376.3" r="0.62" fill="#cbc6f0" fill-opacity="0.8"/>
<circle cx="343.8" cy="392.0" r="0.62" fill="#cbc6f0" fill-opacity="0.8"/>
<circle cx="306.2" cy="386.1" r="0.62" fill="#cbc6f0" fill-opacity="0.8"/>
<circle cx="324.6" cy="390.2" r="0.62" fill="#cbc6f0" fill-opacity="0.8"/>
<circle cx="311.5" cy="384.9" r="0.62" fill="#cbc6f0" fill-opacity="0.8"/>
<circle cx="303.6" cy="372.1" r="0.62" fill="#cbc6f0" fill-opacity="0.8"/>
<circle cx="333.7" cy="382.2" r="0.62" fill="#cbc6f0" fill-opacity="0.8"/>
<circle cx="327.7" cy="389.2" r="0.62" fill="#cbc6f0" fill-opacity="0.8"/>
<circle cx="342.4" cy="390.4" r="0.62" fill="#cbc6f0" fill-opacity="0.8"/>
<circle cx="307.5" cy="389.3" r="0.62" fill="#cbc6f0" fill-opacity="0.8"/>
<circle cx="278.6" cy="379.4" r="0.62" fill="#cbc6f0" fill-opacity="0.8"/>
<circle cx="302.6" cy="381.8" r="0.62" fill="#cbc6f0" fill-opacity="0.8"/>
<circle cx="331.1" cy="387.7" r="0.62" fill="#cbc6f0" fill-opacity="0.8"/>
<circle cx="330.8" cy="391.8" r="0.62" fill="#cbc6f0" fill-opacity="0.8"/>
<circle cx="330.5" cy="391.7" r="0.62" fill="#cbc6f0" fill-opacity="0.8"/>
<circle cx="324.5" cy="389.0" r="0.62" fill="#cbc6f0" fill-opacity="0.8"/>
<circle cx="346.7" cy="384.4" r="0.62" fill="#cbc6f0" fill-opacity="0.8"/>
<circle cx="326.3" cy="389.2" r="0.62" fill="#cbc6f0" fill-opacity="0.8"/>
<circle cx="303.1" cy="380.9" r="0.62" fill="#cbc6f0" fill-opacity="0.8"/>
<circle cx="296.4" cy="387.0" r="0.62" fill="#cbc6f0" fill-opacity="0.8"/>
<circle cx="337.0" cy="382.3" r="0.62" fill="#cbc6f0" fill-opacity="0.8"/>
<circle cx="308.3" cy="390.7" r="0.62" fill="#cbc6f0" fill-opacity="0.8"/>
<circle cx="297.2" cy="370.1" r="0.62" fill="#cbc6f0" fill-opacity="0.8"/>
<circle cx="357.3" cy="386.7" r="0.62" fill="#cbc6f0" fill-opacity="0.8"/>
<circle cx="303.8" cy="390.1" r="0.62" fill="#cbc6f0" fill-opacity="0.8"/>
<circle cx="332.0" cy="388.7" r="0.62" fill="#cbc6f0" fill-opacity="0.8"/>
<circle cx="307.4" cy="391.7" r="0.62" fill="#cbc6f0" fill-opacity="0.8"/>
<circle cx="306.3" cy="379.7" r="0.62" fill="#cbc6f0" fill-opacity="0.8"/>
<circle cx="303.9" cy="388.9" r="0.62" fill="#cbc6f0" fill-opacity="0.8"/>
<circle cx="306.3" cy="381.3" r="0.62" fill="#cbc6f0" fill-opacity="0.8"/>
<circle cx="309.2" cy="389.8" r="0.62" fill="#cbc6f0" fill-opacity="0.8"/>
<circle cx="324.8" cy="390.5" r="0.62" fill="#cbc6f0" fill-opacity="0.8"/>
<circle cx="288.1" cy="368.2" r="0.62" fill="#cbc6f0" fill-opacity="0.8"/>
<circle cx="327.0" cy="385.3" r="0.62" fill="#cbc6f0" fill-opacity="0.8"/>
<circle cx="304.7" cy="388.5" r="0.62" fill="#cbc6f0" fill-opacity="0.8"/>
<circle cx="293.1" cy="387.1" r="0.62" fill="#cbc6f0" fill-opacity="0.8"/>
<circle cx="337.2" cy="391.2" r="0.62" fill="#cbc6f0" fill-opacity="0.8"/>
<circle cx="329.7" cy="379.1" r="0.62" fill="#cbc6f0" fill-opacity="0.8"/>
<circle cx="341.8" cy="386.1" r="0.62" fill="#cbc6f0" fill-opacity="0.8"/>
<circle cx="330.2" cy="389.7" r="0.62" fill="#cbc6f0" fill-opacity="0.8"/>
<circle cx="328.3" cy="387.1" r="0.62" fill="#cbc6f0" fill-opacity="0.8"/>
<circle cx="308.1" cy="391.6" r="0.62" fill="#cbc6f0" fill-opacity="0.8"/>
<circle cx="309.8" cy="392.0" r="0.62" fill="#cbc6f0" fill-opacity="0.8"/>
<circle cx="332.3" cy="388.0" r="0.62" fill="#cbc6f0" fill-opacity="0.8"/>
<circle cx="323.7" cy="388.0" r="0.62" fill="#cbc6f0" fill-opacity="0.8"/>
<circle cx="337.9" cy="389.4" r="0.62" fill="#cbc6f0" fill-opacity="0.8"/>
<circle cx="308.1" cy="387.2" r="0.62" fill="#cbc6f0" fill-opacity="0.8"/>
<circle cx="345.6" cy="390.1" r="0.62" fill="#cbc6f0" fill-opacity="0.8"/>
<circle cx="334.0" cy="386.9" r="0.62" fill="#cbc6f0" fill-opacity="0.8"/>
<circle cx="308.5" cy="390.8" r="0.62" fill="#cbc6f0" fill-opacity="0.8"/>
<circle cx="311.9" cy="385.3" r="0.62" fill="#cbc6f0" fill-opacity="0.8"/>
<circle cx="323.3" cy="389.3" r="0.62" fill="#cbc6f0" fill-opacity="0.8"/>
<circle cx="332.1" cy="391.9" r="0.62" fill="#cbc6f0" fill-opacity="0.8"/>
<circle cx="303.0" cy="391.6" r="0.62" fill="#cbc6f0" fill-opacity="0.8"/>
<circle cx="345.1" cy="382.0" r="0.62" fill="#cbc6f0" fill-opacity="0.8"/>
<circle cx="331.0" cy="388.9" r="0.62" fill="#cbc6f0" fill-opacity="0.8"/>
<circle cx="280.7" cy="375.5" r="0.62" fill="#cbc6f0" fill-opacity="0.8"/>
<circle cx="325.9" cy="388.9" r="0.62" fill="#cbc6f0" fill-opacity="0.8"/>
<circle cx="307.6" cy="391.9" r="0.62" fill="#cbc6f0" fill-opacity="0.8"/>
<circle cx="306.7" cy="390.5" r="0.62" fill="#cbc6f0" fill-opacity="0.8"/>
<circle cx="335.2" cy="382.0" r="0.62" fill="#cbc6f0" fill-opacity="0.8"/>
<circle cx="335.5" cy="386.1" r="0.62" fill="#cbc6f0" fill-opacity="0.8"/>
<circle cx="306.3" cy="377.9" r="0.62" fill="#cbc6f0" fill-opacity="0.8"/>
<circle cx="325.0" cy="386.6" r="0.62" fill="#cbc6f0" fill-opacity="0.8"/>
<circle cx="307.2" cy="390.6" r="0.62" fill="#cbc6f0" fill-opacity="0.8"/>
<circle cx="310.6" cy="387.3" r="0.62" fill="#cbc6f0" fill-opacity="0.8"/>
<circle cx="308.9" cy="391.0" r="0.62" fill="#cbc6f0" fill-opacity="0.8"/>
<circle cx="324.6" cy="389.4" r="0.62" fill="#cbc6f0" fill-opacity="0.8"/>
<circle cx="313.9" cy="388.9" r="0.62" fill="#cbc6f0" fill-opacity="0.8"/>
<circle cx="345.1" cy="374.0" r="0.62" fill="#cbc6f0" fill-opacity="0.8"/>
<circle cx="289.3" cy="379.3" r="0.62" fill="#cbc6f0" fill-opacity="0.8"/>
<circle cx="335.3" cy="391.6" r="0.62" fill="#cbc6f0" fill-opacity="0.8"/>
<circle cx="332.2" cy="388.6" r="0.62" fill="#cbc6f0" fill-opacity="0.8"/>
<circle cx="309.3" cy="387.8" r="0.62" fill="#cbc6f0" fill-opacity="0.8"/>
<circle cx="346.5" cy="391.6" r="0.62" fill="#cbc6f0" fill-opacity="0.8"/>
<circle cx="333.9" cy="374.3" r="0.62" fill="#cbc6f0" fill-opacity="0.8"/>
<circle cx="331.3" cy="387.5" r="0.62" fill="#cbc6f0" fill-opacity="0.8"/>
<circle cx="308.0" cy="391.0" r="0.62" fill="#cbc6f0" fill-opacity="0.8"/>
<circle cx="306.8" cy="390.6" r="0.62" fill="#cbc6f0" fill-opacity="0.8"/>
<circle cx="341.1" cy="378.9" r="0.62" fill="#cbc6f0" fill-opacity="0.8"/>
<circle cx="302.9" cy="391.2" r="0.62" fill="#cbc6f0" fill-opacity="0.8"/>
<circle cx="347.2" cy="388.6" r="0.62" fill="#cbc6f0" fill-opacity="0.8"/>
<circle cx="310.0" cy="389.2" r="0.62" fill="#cbc6f0" fill-opacity="0.8"/>
<circle cx="296.9" cy="387.7" r="0.62" fill="#cbc6f0" fill-opacity="0.8"/>
<circle cx="326.2" cy="390.0" r="0.62" fill="#cbc6f0" fill-opacity="0.8"/>
<circle cx="307.0" cy="386.6" r="0.62" fill="#cbc6f0" fill-opacity="0.8"/>
<circle cx="325.9" cy="389.6" r="0.62" fill="#cbc6f0" fill-opacity="0.8"/>
<circle cx="334.2" cy="384.0" r="0.62" fill="#cbc6f0" fill-opacity="0.8"/>
<circle cx="339.9" cy="391.7" r="0.62" fill="#cbc6f0" fill-opacity="0.8"/>
<circle cx="307.3" cy="383.6" r="0.62" fill="#cbc6f0" fill-opacity="0.8"/>
<circle cx="307.4" cy="381.0" r="0.62" fill="#cbc6f0" fill-opacity="0.8"/>
<circle cx="306.7" cy="381.4" r="0.62" fill="#cbc6f0" fill-opacity="0.8"/>
<circle cx="335.7" cy="391.6" r="0.62" fill="#cbc6f0" fill-opacity="0.8"/>
<circle cx="312.9" cy="384.5" r="0.62" fill="#cbc6f0" fill-opacity="0.8"/>
<circle cx="344.6" cy="390.6" r="0.62" fill="#cbc6f0" fill-opacity="0.8"/>
<circle cx="307.2" cy="380.0" r="0.62" fill="#cbc6f0" fill-opacity="0.8"/>
<circle cx="307.0" cy="391.5" r="0.62" fill="#cbc6f0" fill-opacity="0.8"/>
<circle cx="336.6" cy="382.7" r="0.62" fill="#cbc6f0" fill-opacity="0.8"/>
<circle cx="327.2" cy="380.4" r="0.62" fill="#cbc6f0" fill-opacity="0.8"/>
<circle cx="304.4" cy="382.4" r="0.62" fill="#cbc6f0" fill-opacity="0.8"/>
<circle cx="305.6" cy="389.6" r="0.62" fill="#cbc6f0" fill-opacity="0.8"/>
<circle cx="332.2" cy="373.4" r="0.62" fill="#cbc6f0" fill-opacity="0.8"/>
<circle cx="332.2" cy="390.8" r="0.62" fill="#cbc6f0" fill-opacity="0.8"/>
<circle cx="327.5" cy="391.8" r="0.62" fill="#cbc6f0" fill-opacity="0.8"/>
<circle cx="334.2" cy="391.6" r="0.62" fill="#cbc6f0" fill-opacity="0.8"/>
<circle cx="301.3" cy="387.4" r="0.62" fill="#cbc6f0" fill-opacity="0.8"/>
<circle cx="284.8" cy="387.1" r="0.62" fill="#cbc6f0" fill-opacity="0.8"/>
<circle cx="331.1" cy="389.1" r="0.62" fill="#cbc6f0" fill-opacity="0.8"/>
<circle cx="344.1" cy="385.6" r="0.62" fill="#cbc6f0" fill-opacity="0.8"/>
<circle cx="310.1" cy="384.9" r="0.62" fill="#cbc6f0" fill-opacity="0.8"/>
<circle cx="327.7" cy="391.7" r="0.62" fill="#cbc6f0" fill-opacity="0.8"/>
<circle cx="337.5" cy="391.3" r="0.62" fill="#cbc6f0" fill-opacity="0.8"/>
<circle cx="329.0" cy="389.8" r="0.62" fill="#cbc6f0" fill-opacity="0.8"/>
<circle cx="291.5" cy="360.4" r="0.62" fill="#cbc6f0" fill-opacity="0.8"/>
<circle cx="350.8" cy="379.7" r="0.62" fill="#cbc6f0" fill-opacity="0.8"/>
<circle cx="331.1" cy="390.7" r="0.62" fill="#cbc6f0" fill-opacity="0.8"/>
<circle cx="331.2" cy="381.7" r="0.62" fill="#cbc6f0" fill-opacity="0.8"/>
<circle cx="327.0" cy="390.0" r="0.62" fill="#cbc6f0" fill-opacity="0.8"/>
<circle cx="310.3" cy="389.4" r="0.62" fill="#cbc6f0" fill-opacity="0.8"/>
<circle cx="331.4" cy="390.4" r="0.62" fill="#cbc6f0" fill-opacity="0.8"/>
<circle cx="336.1" cy="373.8" r="0.62" fill="#cbc6f0" fill-opacity="0.8"/>
<circle cx="283.6" cy="385.2" r="0.62" fill="#cbc6f0" fill-opacity="0.8"/>
<circle cx="330.4" cy="390.7" r="0.62" fill="#cbc6f0" fill-opacity="0.8"/>
<circle cx="328.8" cy="386.5" r="0.62" fill="#cbc6f0" fill-opacity="0.8"/>
<circle cx="324.4" cy="389.6" r="0.62" fill="#cbc6f0" fill-opacity="0.8"/>
<circle cx="326.8" cy="385.6" r="0.62" fill="#cbc6f0" fill-opacity="0.8"/>
<circle cx="293.9" cy="385.3" r="0.62" fill="#cbc6f0" fill-opacity="0.8"/>
<circle cx="305.2" cy="391.9" r="0.62" fill="#cbc6f0" fill-opacity="0.8"/>
<circle cx="335.2" cy="389.1" r="0.62" fill="#cbc6f0" fill-opacity="0.8"/>
<circle cx="333.4" cy="389.5" r="0.62" fill="#cbc6f0" fill-opacity="0.8"/>
<circle cx="291.8" cy="387.3" r="0.62" fill="#cbc6f0" fill-opacity="0.8"/>
<circle cx="308.9" cy="388.4" r="0.62" fill="#cbc6f0" fill-opacity="0.8"/>
<circle cx="294.2" cy="389.2" r="0.62" fill="#cbc6f0" fill-opacity="0.8"/>
<circle cx="349.8" cy="364.4" r="0.62" fill="#cbc6f0" fill-opacity="0.8"/>
<circle cx="291.4" cy="388.2" r="0.62" fill="#cbc6f0" fill-opacity="0.8"/>
<circle cx="336.2" cy="390.9" r="0.62" fill="#cbc6f0" fill-opacity="0.8"/>
<circle cx="307.0" cy="370.9" r="0.62" fill="#cbc6f0" fill-opacity="0.8"/>
<circle cx="274.5" cy="362.6" r="0.62" fill="#cbc6f0" fill-opacity="0.8"/>
<circle cx="276.3" cy="355.7" r="0.62" fill="#cbc6f0" fill-opacity="0.8"/>
<circle cx="270.8" cy="342.2" r="0.62" fill="#cbc6f0" fill-opacity="0.8"/>
<circle cx="295.7" cy="387.6" r="0.62" fill="#cbc6f0" fill-opacity="0.8"/>
<circle cx="307.0" cy="387.9" r="0.62" fill="#cbc6f0" fill-opacity="0.8"/>
<circle cx="298.3" cy="383.9" r="0.62" fill="#cbc6f0" fill-opacity="0.8"/>
<circle cx="299.1" cy="392.0" r="0.62" fill="#cbc6f0" fill-opacity="0.8"/>
<circle cx="330.1" cy="385.5" r="0.62" fill="#cbc6f0" fill-opacity="0.8"/>
<circle cx="337.6" cy="383.0" r="0.62" fill="#cbc6f0" fill-opacity="0.8"/>
<circle cx="305.5" cy="389.2" r="0.62" fill="#cbc6f0" fill-opacity="0.8"/>
<circle cx="331.9" cy="374.6" r="0.62" fill="#cbc6f0" fill-opacity="0.8"/>
<circle cx="324.9" cy="388.8" r="0.62" fill="#cbc6f0" fill-opacity="0.8"/>
<circle cx="269.7" cy="383.0" r="0.62" fill="#cbc6f0" fill-opacity="0.8"/>
<circle cx="292.4" cy="391.6" r="0.62" fill="#cbc6f0" fill-opacity="0.8"/>
<circle cx="303.9" cy="391.2" r="0.62" fill="#cbc6f0" fill-opacity="0.8"/>
<circle cx="330.9" cy="389.4" r="0.62" fill="#cbc6f0" fill-opacity="0.8"/>
<circle cx="311.8" cy="390.3" r="0.62" fill="#cbc6f0" fill-opacity="0.8"/>
<circle cx="311.6" cy="386.7" r="0.62" fill="#cbc6f0" fill-opacity="0.8"/>
<circle cx="290.0" cy="387.1" r="0.62" fill="#cbc6f0" fill-opacity="0.8"/>
<circle cx="305.0" cy="382.0" r="0.62" fill="#cbc6f0" fill-opacity="0.8"/>
<circle cx="308.9" cy="391.1" r="0.62" fill="#cbc6f0" fill-opacity="0.8"/>
<circle cx="311.6" cy="388.8" r="0.62" fill="#cbc6f0" fill-opacity="0.8"/>
<circle cx="313.6" cy="390.4" r="0.62" fill="#cbc6f0" fill-opacity="0.8"/>
<circle cx="327.9" cy="391.0" r="0.62" fill="#cbc6f0" fill-opacity="0.8"/>
<circle cx="287.9" cy="388.9" r="0.62" fill="#cbc6f0" fill-opacity="0.8"/>
<circle cx="313.6" cy="389.0" r="0.62" fill="#cbc6f0" fill-opacity="0.8"/>
<circle cx="322.5" cy="391.5" r="0.62" fill="#cbc6f0" fill-opacity="0.8"/>
<circle cx="329.0" cy="389.6" r="0.62" fill="#cbc6f0" fill-opacity="0.8"/>
<circle cx="338.1" cy="390.6" r="0.62" fill="#cbc6f0" fill-opacity="0.8"/>
<circle cx="313.2" cy="387.0" r="0.62" fill="#cbc6f0" fill-opacity="0.8"/>
<circle cx="308.6" cy="389.0" r="0.62" fill="#cbc6f0" fill-opacity="0.8"/>
<circle cx="341.6" cy="390.5" r="0.62" fill="#cbc6f0" fill-opacity="0.8"/>
<circle cx="303.1" cy="388.6" r="0.62" fill="#cbc6f0" fill-opacity="0.8"/>
<circle cx="324.6" cy="389.6" r="0.62" fill="#cbc6f0" fill-opacity="0.8"/>
<circle cx="313.6" cy="391.7" r="0.62" fill="#cbc6f0" fill-opacity="0.8"/>
<circle cx="327.9" cy="387.2" r="0.62" fill="#cbc6f0" fill-opacity="0.8"/>
<circle cx="336.8" cy="381.8" r="0.62" fill="#cbc6f0" fill-opacity="0.8"/>
<circle cx="298.2" cy="389.7" r="0.62" fill="#cbc6f0" fill-opacity="0.8"/>
<circle cx="350.5" cy="373.9" r="0.62" fill="#cbc6f0" fill-opacity="0.8"/>
<circle cx="312.9" cy="389.2" r="0.62" fill="#cbc6f0" fill-opacity="0.8"/>
<circle cx="292.1" cy="392.0" r="0.62" fill="#cbc6f0" fill-opacity="0.8"/>
<circle cx="355.5" cy="372.2" r="0.62" fill="#cbc6f0" fill-opacity="0.8"/>
<circle cx="332.8" cy="381.0" r="0.62" fill="#cbc6f0" fill-opacity="0.8"/>
<circle cx="295.5" cy="389.7" r="0.62" fill="#cbc6f0" fill-opacity="0.8"/>
<circle cx="322.8" cy="391.2" r="0.62" fill="#cbc6f0" fill-opacity="0.8"/>
<circle cx="304.6" cy="390.6" r="0.62" fill="#cbc6f0" fill-opacity="0.8"/>
<circle cx="346.1" cy="382.1" r="0.62" fill="#cbc6f0" fill-opacity="0.8"/>
<circle cx="329.5" cy="388.9" r="0.62" fill="#cbc6f0" fill-opacity="0.8"/>
<circle cx="335.0" cy="386.9" r="0.62" fill="#cbc6f0" fill-opacity="0.8"/>
<circle cx="303.4" cy="381.3" r="0.62" fill="#cbc6f0" fill-opacity="0.8"/>
<circle cx="326.1" cy="391.8" r="0.62" fill="#cbc6f0" fill-opacity="0.8"/>
<circle cx="330.9" cy="385.8" r="0.62" fill="#cbc6f0" fill-opacity="0.8"/>
<circle cx="270.7" cy="342.8" r="0.62" fill="#cbc6f0" fill-opacity="0.8"/>
<circle cx="313.2" cy="387.2" r="0.62" fill="#cbc6f0" fill-opacity="0.8"/>
<circle cx="356.1" cy="385.9" r="0.62" fill="#cbc6f0" fill-opacity="0.8"/>
<circle cx="309.7" cy="386.8" r="0.62" fill="#cbc6f0" fill-opacity="0.8"/>
<circle cx="298.9" cy="381.6" r="0.62" fill="#cbc6f0" fill-opacity="0.8"/>
<circle cx="314.0" cy="390.9" r="0.62" fill="#cbc6f0" fill-opacity="0.8"/>
<circle cx="314.4" cy="388.5" r="0.62" fill="#cbc6f0" fill-opacity="0.8"/>
<circle cx="338.2" cy="385.2" r="0.62" fill="#cbc6f0" fill-opacity="0.8"/>
<circle cx="298.7" cy="388.5" r="0.62" fill="#cbc6f0" fill-opacity="0.8"/>
<circle cx="292.2" cy="373.2" r="0.62" fill="#cbc6f0" fill-opacity="0.8"/>
<circle cx="331.1" cy="385.4" r="0.62" fill="#cbc6f0" fill-opacity="0.8"/>
<circle cx="312.9" cy="389.0" r="0.62" fill="#cbc6f0" fill-opacity="0.8"/>
<circle cx="306.0" cy="376.7" r="0.62" fill="#cbc6f0" fill-opacity="0.8"/>
<circle cx="297.0" cy="381.0" r="0.62" fill="#cbc6f0" fill-opacity="0.8"/>
<circle cx="313.6" cy="391.0" r="0.62" fill="#cbc6f0" fill-opacity="0.8"/>
<circle cx="345.5" cy="376.0" r="0.62" fill="#cbc6f0" fill-opacity="0.8"/>
<circle cx="299.3" cy="385.3" r="0.62" fill="#cbc6f0" fill-opacity="0.8"/>
<circle cx="330.3" cy="387.7" r="0.62" fill="#cbc6f0" fill-opacity="0.8"/>
<circle cx="322.6" cy="391.3" r="0.62" fill="#cbc6f0" fill-opacity="0.8"/>
<circle cx="329.8" cy="390.6" r="0.62" fill="#cbc6f0" fill-opacity="0.8"/>
<circle cx="334.6" cy="381.6" r="0.62" fill="#cbc6f0" fill-opacity="0.8"/>
<circle cx="333.6" cy="388.4" r="0.62" fill="#cbc6f0" fill-opacity="0.8"/>
<circle cx="335.5" cy="389.3" r="0.62" fill="#cbc6f0" fill-opacity="0.8"/>
<circle cx="330.1" cy="389.6" r="0.62" fill="#cbc6f0" fill-opacity="0.8"/>
<circle cx="324.0" cy="390.4" r="0.62" fill="#cbc6f0" fill-opacity="0.8"/>
<circle cx="296.2" cy="390.2" r="0.62" fill="#cbc6f0" fill-opacity="0.8"/>
<circle cx="311.8" cy="382.3" r="0.62" fill="#cbc6f0" fill-opacity="0.8"/>
<circle cx="305.4" cy="388.6" r="0.62" fill="#cbc6f0" fill-opacity="0.8"/>
<circle cx="286.4" cy="387.1" r="0.62" fill="#cbc6f0" fill-opacity="0.8"/>
<circle cx="327.3" cy="389.1" r="0.62" fill="#cbc6f0" fill-opacity="0.8"/>
<circle cx="315.1" cy="390.4" r="0.62" fill="#cbc6f0" fill-opacity="0.8"/>
<circle cx="329.7" cy="387.8" r="0.62" fill="#cbc6f0" fill-opacity="0.8"/>
<circle cx="311.1" cy="391.8" r="0.62" fill="#cbc6f0" fill-opacity="0.8"/>
<circle cx="338.3" cy="389.6" r="0.62" fill="#cbc6f0" fill-opacity="0.8"/>
<circle cx="303.1" cy="388.4" r="0.62" fill="#cbc6f0" fill-opacity="0.8"/>
<circle cx="324.2" cy="391.4" r="0.62" fill="#cbc6f0" fill-opacity="0.8"/>
<circle cx="310.7" cy="390.5" r="0.62" fill="#cbc6f0" fill-opacity="0.8"/>
<circle cx="336.3" cy="391.2" r="0.62" fill="#cbc6f0" fill-opacity="0.8"/>
<circle cx="290.4" cy="386.8" r="0.62" fill="#cbc6f0" fill-opacity="0.8"/>
<circle cx="339.9" cy="389.3" r="0.62" fill="#cbc6f0" fill-opacity="0.8"/>
<circle cx="342.8" cy="386.4" r="0.62" fill="#cbc6f0" fill-opacity="0.8"/>
<circle cx="286.2" cy="390.3" r="0.62" fill="#cbc6f0" fill-opacity="0.8"/>
<circle cx="302.2" cy="390.9" r="0.62" fill="#cbc6f0" fill-opacity="0.8"/>
<circle cx="334.3" cy="390.3" r="0.62" fill="#cbc6f0" fill-opacity="0.8"/>
<circle cx="312.6" cy="390.2" r="0.62" fill="#cbc6f0" fill-opacity="0.8"/>
<circle cx="330.8" cy="374.8" r="0.62" fill="#cbc6f0" fill-opacity="0.8"/>
<circle cx="295.2" cy="379.6" r="0.62" fill="#cbc6f0" fill-opacity="0.8"/>
<circle cx="292.1" cy="386.4" r="0.62" fill="#cbc6f0" fill-opacity="0.8"/>
<circle cx="298.9" cy="387.4" r="0.62" fill="#cbc6f0" fill-opacity="0.8"/>
<circle cx="346.4" cy="389.8" r="0.62" fill="#cbc6f0" fill-opacity="0.8"/>
<circle cx="348.1" cy="375.4" r="0.62" fill="#cbc6f0" fill-opacity="0.8"/>
<circle cx="297.8" cy="388.1" r="0.62" fill="#cbc6f0" fill-opacity="0.8"/>
<circle cx="326.7" cy="389.5" r="0.62" fill="#cbc6f0" fill-opacity="0.8"/>
<circle cx="342.6" cy="387.0" r="0.62" fill="#cbc6f0" fill-opacity="0.8"/>
<circle cx="345.1" cy="379.0" r="0.62" fill="#cbc6f0" fill-opacity="0.8"/>
<circle cx="308.2" cy="389.8" r="0.62" fill="#cbc6f0" fill-opacity="0.8"/>
<circle cx="310.3" cy="391.4" r="0.62" fill="#cbc6f0" fill-opacity="0.8"/>
<circle cx="325.3" cy="389.8" r="0.62" fill="#cbc6f0" fill-opacity="0.8"/>
<circle cx="313.5" cy="391.6" r="0.62" fill="#cbc6f0" fill-opacity="0.8"/>
<circle cx="310.6" cy="388.8" r="0.62" fill="#cbc6f0" fill-opacity="0.8"/>
<circle cx="291.9" cy="367.6" r="0.62" fill="#cbc6f0" fill-opacity="0.8"/>
<circle cx="292.4" cy="388.6" r="0.62" fill="#cbc6f0" fill-opacity="0.8"/>
<circle cx="310.3" cy="391.5" r="0.62" fill="#cbc6f0" fill-opacity="0.8"/>
<circle cx="291.4" cy="379.3" r="0.62" fill="#cbc6f0" fill-opacity="0.8"/>
<circle cx="309.7" cy="388.8" r="0.62" fill="#cbc6f0" fill-opacity="0.8"/>
<circle cx="322.4" cy="391.8" r="0.62" fill="#cbc6f0" fill-opacity="0.8"/>
<circle cx="312.3" cy="391.1" r="0.62" fill="#cbc6f0" fill-opacity="0.8"/>
<circle cx="343.4" cy="375.2" r="0.62" fill="#cbc6f0" fill-opacity="0.8"/>
<circle cx="308.6" cy="380.3" r="0.62" fill="#cbc6f0" fill-opacity="0.8"/>
<circle cx="326.9" cy="382.5" r="0.62" fill="#cbc6f0" fill-opacity="0.8"/>
<circle cx="346.1" cy="375.8" r="0.62" fill="#cbc6f0" fill-opacity="0.8"/>
<circle cx="308.4" cy="391.3" r="0.62" fill="#cbc6f0" fill-opacity="0.8"/>
<circle cx="330.2" cy="379.8" r="0.62" fill="#cbc6f0" fill-opacity="0.8"/>
<circle cx="314.8" cy="391.0" r="0.62" fill="#cbc6f0" fill-opacity="0.8"/>
<circle cx="295.7" cy="385.0" r="0.62" fill="#cbc6f0" fill-opacity="0.8"/>
<circle cx="314.0" cy="392.0" r="0.62" fill="#cbc6f0" fill-opacity="0.8"/>
<circle cx="305.0" cy="373.0" r="0.62" fill="#cbc6f0" fill-opacity="0.8"/>
<circle cx="302.7" cy="388.9" r="0.62" fill="#cbc6f0" fill-opacity="0.8"/>
<circle cx="342.9" cy="390.5" r="0.62" fill="#cbc6f0" fill-opacity="0.8"/>
<circle cx="299.4" cy="390.2" r="0.62" fill="#cbc6f0" fill-opacity="0.8"/>
<circle cx="333.8" cy="387.5" r="0.62" fill="#cbc6f0" fill-opacity="0.8"/>
<circle cx="342.2" cy="385.7" r="0.62" fill="#cbc6f0" fill-opacity="0.8"/>
<circle cx="327.8" cy="390.8" r="0.62" fill="#cbc6f0" fill-opacity="0.8"/>
<circle cx="330.1" cy="390.5" r="0.62" fill="#cbc6f0" fill-opacity="0.8"/>
<circle cx="329.7" cy="390.8" r="0.62" fill="#cbc6f0" fill-opacity="0.8"/>
<circle cx="340.5" cy="386.9" r="0.62" fill="#cbc6f0" fill-opacity="0.8"/>
<circle cx="314.2" cy="390.8" r="0.62" fill="#cbc6f0" fill-opacity="0.8"/>
<circle cx="337.2" cy="383.9" r="0.62" fill="#cbc6f0" fill-opacity="0.8"/>
<circle cx="309.1" cy="385.3" r="0.62" fill="#cbc6f0" fill-opacity="0.8"/>
<circle cx="297.1" cy="385.1" r="0.62" fill="#cbc6f0" fill-opacity="0.8"/>
<circle cx="299.5" cy="388.5" r="0.62" fill="#cbc6f0" fill-opacity="0.8"/>
<circle cx="310.5" cy="389.2" r="0.62" fill="#cbc6f0" fill-opacity="0.8"/>
<circle cx="342.3" cy="391.6" r="0.62" fill="#cbc6f0" fill-opacity="0.8"/>
<circle cx="304.3" cy="388.7" r="0.62" fill="#cbc6f0" fill-opacity="0.8"/>
<circle cx="311.9" cy="389.5" r="0.62" fill="#cbc6f0" fill-opacity="0.8"/>
<circle cx="336.5" cy="387.0" r="0.62" fill="#cbc6f0" fill-opacity="0.8"/>
<circle cx="313.5" cy="388.1" r="0.62" fill="#cbc6f0" fill-opacity="0.8"/>
<circle cx="323.8" cy="391.8" r="0.62" fill="#cbc6f0" fill-opacity="0.8"/>
<circle cx="312.1" cy="388.7" r="0.62" fill="#cbc6f0" fill-opacity="0.8"/>
<circle cx="306.3" cy="379.4" r="0.62" fill="#cbc6f0" fill-opacity="0.8"/>
<circle cx="289.3" cy="375.9" r="0.62" fill="#cbc6f0" fill-opacity="0.8"/>
<circle cx="284.6" cy="382.2" r="0.62" fill="#cbc6f0" fill-opacity="0.8"/>
<circle cx="332.2" cy="374.5" r="0.62" fill="#cbc6f0" fill-opacity="0.8"/>
<circle cx="303.3" cy="379.2" r="0.62" fill="#cbc6f0" fill-opacity="0.8"/>
<circle cx="327.2" cy="389.3" r="0.62" fill="#cbc6f0" fill-opacity="0.8"/>
<circle cx="272.7" cy="375.2" r="0.62" fill="#cbc6f0" fill-opacity="0.8"/>
<circle cx="302.1" cy="367.4" r="0.62" fill="#cbc6f0" fill-opacity="0.8"/>
<circle cx="297.4" cy="389.8" r="0.62" fill="#cbc6f0" fill-opacity="0.8"/>
<circle cx="311.5" cy="386.8" r="0.62" fill="#cbc6f0" fill-opacity="0.8"/>
<circle cx="342.8" cy="383.4" r="0.62" fill="#cbc6f0" fill-opacity="0.8"/>
<circle cx="339.8" cy="374.4" r="0.62" fill="#cbc6f0" fill-opacity="0.8"/>
<circle cx="304.5" cy="376.7" r="0.62" fill="#cbc6f0" fill-opacity="0.8"/>
<circle cx="308.2" cy="391.0" r="0.62" fill="#cbc6f0" fill-opacity="0.8"/>
<circle cx="338.3" cy="388.0" r="0.62" fill="#cbc6f0" fill-opacity="0.8"/>
<circle cx="337.5" cy="389.4" r="0.62" fill="#cbc6f0" fill-opacity="0.8"/>
<circle cx="315.1" cy="390.7" r="0.62" fill="#cbc6f0" fill-opacity="0.8"/>
<circle cx="363.2" cy="369.1" r="0.62" fill="#cbc6f0" fill-opacity="0.8"/>
<circle cx="327.3" cy="387.3" r="0.62" fill="#cbc6f0" fill-opacity="0.8"/>
<circle cx="331.5" cy="390.9" r="0.62" fill="#cbc6f0" fill-opacity="0.8"/>
<circle cx="283.5" cy="372.5" r="0.62" fill="#cbc6f0" fill-opacity="0.8"/>
<circle cx="311.1" cy="390.5" r="0.62" fill="#cbc6f0" fill-opacity="0.8"/>
<circle cx="300.6" cy="388.2" r="0.62" fill="#cbc6f0" fill-opacity="0.8"/>
<circle cx="298.8" cy="389.5" r="0.62" fill="#cbc6f0" fill-opacity="0.8"/>
<circle cx="351.1" cy="390.2" r="0.62" fill="#cbc6f0" fill-opacity="0.8"/>
<circle cx="324.8" cy="385.0" r="0.62" fill="#cbc6f0" fill-opacity="0.8"/>
<circle cx="295.0" cy="389.4" r="0.62" fill="#cbc6f0" fill-opacity="0.8"/>
<circle cx="331.7" cy="388.6" r="0.62" fill="#cbc6f0" fill-opacity="0.8"/>
<circle cx="327.5" cy="390.4" r="0.62" fill="#cbc6f0" fill-opacity="0.8"/>
<circle cx="288.7" cy="388.2" r="0.62" fill="#cbc6f0" fill-opacity="0.8"/>
<circle cx="295.9" cy="375.7" r="0.62" fill="#cbc6f0" fill-opacity="0.8"/>
<circle cx="328.8" cy="390.4" r="0.62" fill="#cbc6f0" fill-opacity="0.8"/>
<circle cx="326.4" cy="390.0" r="0.62" fill="#cbc6f0" fill-opacity="0.8"/>
<circle cx="298.6" cy="386.0" r="0.62" fill="#cbc6f0" fill-opacity="0.8"/>
<circle cx="313.9" cy="387.9" r="0.62" fill="#cbc6f0" fill-opacity="0.8"/>
<circle cx="332.1" cy="385.1" r="0.62" fill="#cbc6f0" fill-opacity="0.8"/>
<circle cx="335.6" cy="386.9" r="0.62" fill="#cbc6f0" fill-opacity="0.8"/>
<circle cx="329.2" cy="391.7" r="0.62" fill="#cbc6f0" fill-opacity="0.8"/>
<circle cx="296.6" cy="385.8" r="0.62" fill="#cbc6f0" fill-opacity="0.8"/>
<circle cx="310.4" cy="390.0" r="0.62" fill="#cbc6f0" fill-opacity="0.8"/>
<circle cx="313.5" cy="390.4" r="0.62" fill="#cbc6f0" fill-opacity="0.8"/>
<circle cx="326.7" cy="382.4" r="0.62" fill="#cbc6f0" fill-opacity="0.8"/>
<circle cx="288.2" cy="388.7" r="0.62" fill="#cbc6f0" fill-opacity="0.8"/>
<circle cx="290.2" cy="374.5" r="0.62" fill="#cbc6f0" fill-opacity="0.8"/>
<circle cx="323.8" cy="389.7" r="0.62" fill="#cbc6f0" fill-opacity="0.8"/>
<circle cx="343.7" cy="376.4" r="0.62" fill="#cbc6f0" fill-opacity="0.8"/>
<circle cx="344.0" cy="382.2" r="0.62" fill="#cbc6f0" fill-opacity="0.8"/>
<circle cx="307.0" cy="385.1" r="0.62" fill="#cbc6f0" fill-opacity="0.8"/>
<circle cx="348.2" cy="382.3" r="0.62" fill="#cbc6f0" fill-opacity="0.8"/>
<circle cx="297.7" cy="391.2" r="0.62" fill="#cbc6f0" fill-opacity="0.8"/>
<circle cx="306.2" cy="376.9" r="0.62" fill="#cbc6f0" fill-opacity="0.8"/>
<circle cx="298.2" cy="373.2" r="0.62" fill="#cbc6f0" fill-opacity="0.8"/>
<circle cx="344.4" cy="375.8" r="0.62" fill="#cbc6f0" fill-opacity="0.8"/>
<circle cx="299.7" cy="369.5" r="0.62" fill="#cbc6f0" fill-opacity="0.8"/>
<circle cx="337.1" cy="379.7" r="0.62" fill="#cbc6f0" fill-opacity="0.8"/>
<circle cx="339.0" cy="390.2" r="0.62" fill="#cbc6f0" fill-opacity="0.8"/>
<circle cx="354.0" cy="366.8" r="0.62" fill="#cbc6f0" fill-opacity="0.8"/>
<circle cx="334.3" cy="332.9" r="0.55" fill="#d2cdf2"/>
<circle cx="346.3" cy="328.7" r="0.55" fill="#d2cdf2"/>
<circle cx="362.7" cy="373.4" r="0.55" fill="#d2cdf2"/>
<circle cx="353.1" cy="380.0" r="0.55" fill="#d2cdf2"/>
<circle cx="328.0" cy="384.4" r="0.55" fill="#d2cdf2"/>
<circle cx="336.1" cy="356.0" r="0.55" fill="#d2cdf2"/>
<circle cx="306.6" cy="347.3" r="0.55" fill="#d2cdf2"/>
<circle cx="264.7" cy="335.1" r="0.55" fill="#d2cdf2"/>
<circle cx="354.3" cy="339.4" r="0.55" fill="#d2cdf2"/>
<circle cx="337.8" cy="373.8" r="0.55" fill="#d2cdf2"/>
<circle cx="342.6" cy="357.5" r="0.55" fill="#d2cdf2"/>
<circle cx="298.7" cy="342.2" r="0.55" fill="#d2cdf2"/>
<circle cx="283.7" cy="365.8" r="0.55" fill="#d2cdf2"/>
<circle cx="341.6" cy="384.4" r="0.55" fill="#d2cdf2"/>
<circle cx="300.3" cy="383.4" r="0.55" fill="#d2cdf2"/>
<circle cx="367.7" cy="343.3" r="0.55" fill="#d2cdf2"/>
<circle cx="372.4" cy="364.0" r="0.55" fill="#d2cdf2"/>
<circle cx="373.7" cy="373.8" r="0.55" fill="#d2cdf2"/>
<circle cx="300.7" cy="342.6" r="0.55" fill="#d2cdf2"/>
<circle cx="322.6" cy="355.7" r="0.55" fill="#d2cdf2"/>
<circle cx="266.1" cy="379.3" r="0.55" fill="#d2cdf2"/>
<circle cx="324.1" cy="354.8" r="0.55" fill="#d2cdf2"/>
<circle cx="348.4" cy="340.7" r="0.55" fill="#d2cdf2"/>
<circle cx="285.1" cy="361.6" r="0.55" fill="#d2cdf2"/>
<circle cx="290.0" cy="345.6" r="0.55" fill="#d2cdf2"/>
<circle cx="270.1" cy="328.3" r="0.55" fill="#d2cdf2"/>
<circle cx="303.2" cy="358.2" r="0.55" fill="#d2cdf2"/>
<circle cx="372.1" cy="365.3" r="0.55" fill="#d2cdf2"/>
<circle cx="310.1" cy="350.6" r="0.55" fill="#d2cdf2"/>
<circle cx="289.3" cy="354.9" r="0.55" fill="#d2cdf2"/>
<circle cx="373.3" cy="332.7" r="0.55" fill="#d2cdf2"/>
<circle cx="312.2" cy="368.2" r="0.55" fill="#d2cdf2"/>
<circle cx="350.4" cy="360.0" r="0.55" fill="#d2cdf2"/>
<circle cx="336.4" cy="384.1" r="0.55" fill="#d2cdf2"/>
<circle cx="366.7" cy="340.8" r="0.55" fill="#d2cdf2"/>
<circle cx="324.8" cy="387.8" r="0.55" fill="#d2cdf2"/>
<circle cx="323.2" cy="336.9" r="0.55" fill="#d2cdf2"/>
<circle cx="350.9" cy="328.6" r="0.55" fill="#d2cdf2"/>
<circle cx="279.4" cy="359.7" r="0.55" fill="#d2cdf2"/>
<circle cx="293.6" cy="370.3" r="0.55" fill="#d2cdf2"/>
<circle cx="346.3" cy="345.1" r="0.55" fill="#d2cdf2"/>
<circle cx="351.0" cy="365.8" r="0.55" fill="#d2cdf2"/>
<circle cx="343.9" cy="353.8" r="0.55" fill="#d2cdf2"/>
<circle cx="312.2" cy="331.7" r="0.55" fill="#d2cdf2"/>
<circle cx="317.1" cy="385.1" r="0.55" fill="#d2cdf2"/>
<path d="M315.4,392.6 L298.0,392.6 Q296.8,401.5 302.5,405.2 L318.8,405.4 Z" fill="#0c0c0c"/>
<path d="M322.2,392.6 L344.2,392.6 Q345.2,401.5 339.5,405.2 L318.8,405.4 Z" fill="#0c0c0c"/>
<circle cx="296.9" cy="393.2" r="0.55" fill="#111"/>
<circle cx="344.9" cy="398.4" r="0.55" fill="#111"/>
<circle cx="283.2" cy="399.1" r="0.55" fill="#111"/>
<circle cx="297.8" cy="400.9" r="0.55" fill="#111"/>
<circle cx="341.4" cy="401.6" r="0.55" fill="#111"/>
<circle cx="298.5" cy="399.9" r="0.55" fill="#111"/>
<circle cx="341.4" cy="394.1" r="0.55" fill="#111"/>
<circle cx="345.2" cy="400.5" r="0.55" fill="#111"/>
<circle cx="290.1" cy="403.3" r="0.55" fill="#111"/>
<circle cx="354.3" cy="403.5" r="0.55" fill="#111"/>
<circle cx="298.1" cy="393.5" r="0.55" fill="#111"/>
<circle cx="345.3" cy="403.5" r="0.55" fill="#111"/>
<circle cx="298.4" cy="402.5" r="0.55" fill="#111"/>
<circle cx="343.1" cy="397.5" r="0.55" fill="#111"/>
<circle cx="342.0" cy="398.3" r="0.55" fill="#111"/>
<circle cx="296.4" cy="398.1" r="0.55" fill="#111"/>
<circle cx="344.2" cy="394.3" r="0.55" fill="#111"/>
<circle cx="344.2" cy="399.7" r="0.55" fill="#111"/>
<circle cx="344.7" cy="399.2" r="0.55" fill="#111"/>
<circle cx="347.8" cy="394.1" r="0.55" fill="#111"/>
<circle cx="298.2" cy="401.7" r="0.55" fill="#111"/>
<circle cx="343.0" cy="400.9" r="0.55" fill="#111"/>
<circle cx="296.5" cy="394.2" r="0.55" fill="#111"/>
<circle cx="343.8" cy="397.8" r="0.55" fill="#111"/>
<circle cx="342.6" cy="398.2" r="0.55" fill="#111"/>
<circle cx="296.4" cy="395.8" r="0.55" fill="#111"/>
<circle cx="342.4" cy="404.5" r="0.55" fill="#111"/>
<circle cx="341.5" cy="400.1" r="0.55" fill="#111"/>
<circle cx="293.9" cy="397.8" r="0.55" fill="#111"/>
<circle cx="345.4" cy="400.0" r="0.55" fill="#111"/>
<circle cx="342.2" cy="401.2" r="0.55" fill="#111"/>
<circle cx="343.7" cy="404.8" r="0.55" fill="#111"/>
<circle cx="295.1" cy="400.1" r="0.55" fill="#111"/>
<circle cx="298.3" cy="399.9" r="0.55" fill="#111"/>
<circle cx="342.5" cy="404.1" r="0.55" fill="#111"/>
<circle cx="344.6" cy="396.6" r="0.55" fill="#111"/>
<circle cx="344.7" cy="394.4" r="0.55" fill="#111"/>
<circle cx="297.4" cy="399.5" r="0.55" fill="#111"/>
<circle cx="343.8" cy="404.5" r="0.55" fill="#111"/>
<circle cx="343.0" cy="393.8" r="0.55" fill="#111"/>
<circle cx="298.2" cy="401.4" r="0.55" fill="#111"/>
<circle cx="346.6" cy="397.7" r="0.55" fill="#111"/>
<circle cx="341.8" cy="400.0" r="0.55" fill="#111"/>
<circle cx="297.0" cy="397.9" r="0.55" fill="#111"/>
<circle cx="341.8" cy="396.9" r="0.55" fill="#111"/>
<circle cx="298.6" cy="393.5" r="0.55" fill="#111"/>
<circle cx="296.3" cy="393.5" r="0.55" fill="#111"/>
<circle cx="298.4" cy="399.0" r="0.55" fill="#111"/>
<circle cx="296.0" cy="396.6" r="0.55" fill="#111"/>
<circle cx="342.0" cy="401.5" r="0.55" fill="#111"/>
<circle cx="342.5" cy="403.6" r="0.55" fill="#111"/>
<circle cx="293.7" cy="401.5" r="0.55" fill="#111"/>
<circle cx="297.6" cy="402.8" r="0.55" fill="#111"/>
<circle cx="344.1" cy="404.8" r="0.55" fill="#111"/>
<circle cx="296.9" cy="400.3" r="0.55" fill="#111"/>
<circle cx="341.8" cy="404.6" r="0.55" fill="#111"/>
<circle cx="346.0" cy="403.7" r="0.55" fill="#111"/>
<circle cx="294.0" cy="404.0" r="0.55" fill="#111"/>
<circle cx="297.4" cy="400.3" r="0.55" fill="#111"/>
<circle cx="342.0" cy="403.6" r="0.55" fill="#111"/>
<circle cx="297.3" cy="393.9" r="0.55" fill="#111"/>
<circle cx="345.1" cy="393.8" r="0.55" fill="#111"/>
<circle cx="294.9" cy="401.2" r="0.55" fill="#111"/>
<circle cx="299.0" cy="393.7" r="0.55" fill="#111"/>
<circle cx="345.6" cy="399.0" r="0.55" fill="#111"/>
<circle cx="341.5" cy="394.4" r="0.55" fill="#111"/>
<circle cx="292.1" cy="400.5" r="0.55" fill="#111"/>
<circle cx="341.4" cy="395.0" r="0.55" fill="#111"/>
<circle cx="341.5" cy="402.4" r="0.55" fill="#111"/>
<circle cx="296.8" cy="397.4" r="0.55" fill="#111"/>
<circle cx="341.3" cy="404.1" r="0.55" fill="#111"/>
<circle cx="342.2" cy="393.4" r="0.55" fill="#111"/>
<circle cx="342.9" cy="395.2" r="0.55" fill="#111"/>
<circle cx="298.9" cy="403.2" r="0.55" fill="#111"/>
<circle cx="344.7" cy="395.4" r="0.55" fill="#111"/>
<circle cx="344.8" cy="399.1" r="0.55" fill="#111"/>
<circle cx="346.4" cy="397.5" r="0.55" fill="#111"/>
<circle cx="343.2" cy="399.4" r="0.55" fill="#111"/>
<circle cx="298.3" cy="396.7" r="0.55" fill="#111"/>
<circle cx="341.4" cy="402.6" r="0.55" fill="#111"/>
<circle cx="322.0" cy="396.6" r="0.45" fill="#222"/>
<circle cx="321.2" cy="401.4" r="0.45" fill="#222"/>
<circle cx="323.0" cy="394.3" r="0.45" fill="#222"/>
<circle cx="316.8" cy="403.6" r="0.45" fill="#222"/>
<circle cx="314.8" cy="394.1" r="0.45" fill="#222"/>
<circle cx="321.5" cy="399.6" r="0.45" fill="#222"/>
<circle cx="323.0" cy="393.7" r="0.45" fill="#222"/>
<circle cx="319.3" cy="404.9" r="0.45" fill="#222"/>
<circle cx="314.7" cy="393.4" r="0.45" fill="#222"/>
<circle cx="321.1" cy="401.6" r="0.45" fill="#222"/>
<circle cx="321.9" cy="399.8" r="0.45" fill="#222"/>
<circle cx="321.3" cy="400.2" r="0.45" fill="#222"/>
<circle cx="316.7" cy="400.1" r="0.45" fill="#222"/>
<circle cx="320.4" cy="402.0" r="0.45" fill="#222"/>
<circle cx="322.5" cy="395.8" r="0.45" fill="#222"/>
<circle cx="320.4" cy="404.9" r="0.45" fill="#222"/>
<circle cx="314.0" cy="393.3" r="0.45" fill="#222"/>
<circle cx="316.7" cy="400.3" r="0.45" fill="#222"/>
<circle cx="322.7" cy="397.1" r="0.45" fill="#222"/>
<circle cx="318.1" cy="404.7" r="0.45" fill="#222"/>
<circle cx="316.9" cy="402.8" r="0.45" fill="#222"/>
<circle cx="315.0" cy="393.9" r="0.45" fill="#222"/>
<circle cx="316.9" cy="402.5" r="0.45" fill="#222"/>
<circle cx="317.2" cy="403.7" r="0.45" fill="#222"/>
<circle cx="321.0" cy="402.7" r="0.45" fill="#222"/>
<circle cx="315.8" cy="397.0" r="0.45" fill="#222"/>
<circle cx="318.1" cy="404.2" r="0.45" fill="#222"/>
<circle cx="322.4" cy="397.7" r="0.45" fill="#222"/>
<circle cx="322.2" cy="397.8" r="0.45" fill="#222"/>
<circle cx="322.2" cy="399.0" r="0.45" fill="#222"/>
<circle cx="316.6" cy="400.2" r="0.45" fill="#222"/>
<circle cx="317.1" cy="401.2" r="0.45" fill="#222"/>
<circle cx="316.8" cy="401.4" r="0.45" fill="#222"/>
<circle cx="317.5" cy="404.8" r="0.45" fill="#222"/>
<circle cx="319.8" cy="404.2" r="0.45" fill="#222"/>
<circle cx="314.5" cy="393.9" r="0.45" fill="#222"/>
<circle cx="322.6" cy="394.6" r="0.45" fill="#222"/>
<circle cx="313.8" cy="393.5" r="0.45" fill="#222"/>
<circle cx="321.3" cy="399.8" r="0.45" fill="#222"/>
<circle cx="315.5" cy="395.6" r="0.45" fill="#222"/>
<circle cx="338.3" cy="400.6" r="0.45" fill="#222"/>
<circle cx="334.7" cy="398.4" r="0.45" fill="#222"/>
<circle cx="318.2" cy="394.0" r="0.45" fill="#222"/>
<circle cx="324.9" cy="404.1" r="0.45" fill="#222"/>
<circle cx="277.1" cy="397.7" r="0.45" fill="#222"/>
<circle cx="288.1" cy="398.3" r="0.45" fill="#222"/>
<circle cx="305.6" cy="395.3" r="0.45" fill="#222"/>
<circle cx="304.2" cy="403.1" r="0.45" fill="#222"/>
<circle cx="302.7" cy="394.2" r="0.45" fill="#222"/>
<circle cx="294.1" cy="400.3" r="0.45" fill="#222"/>
<circle cx="366.0" cy="396.2" r="0.45" fill="#222"/>
<circle cx="337.1" cy="395.1" r="0.45" fill="#222"/>
<circle cx="344.7" cy="395.0" r="0.45" fill="#222"/>
<circle cx="301.7" cy="404.4" r="0.45" fill="#222"/>
<circle cx="355.2" cy="400.0" r="0.45" fill="#222"/>
<circle cx="288.7" cy="395.5" r="0.45" fill="#222"/>
<circle cx="314.2" cy="398.3" r="0.45" fill="#222"/>
<circle cx="270.5" cy="399.2" r="0.45" fill="#222"/>
<circle cx="270.2" cy="402.6" r="0.45" fill="#222"/>
<circle cx="353.8" cy="398.0" r="0.45" fill="#222"/>
<circle cx="305.9" cy="401.7" r="0.45" fill="#222"/>
<circle cx="273.2" cy="393.6" r="0.45" fill="#222"/>
<circle cx="298.2" cy="374.0" r="1.7" fill="#e88a9c" stroke="#a0102c" stroke-width="0.9"/>
<line x1="293.60" y1="367.80" x2="296.60" y2="371.60" stroke="#222" stroke-width="0.7" marker-end="url(#ah)"/>
<text x="279.50" y="361.00" font-size="5.9" text-anchor="middle" font-weight="normal" font-style="normal" fill="#222" stroke="#222" stroke-width="0.16">SAMD1</text>
</svg></div></body></html>
